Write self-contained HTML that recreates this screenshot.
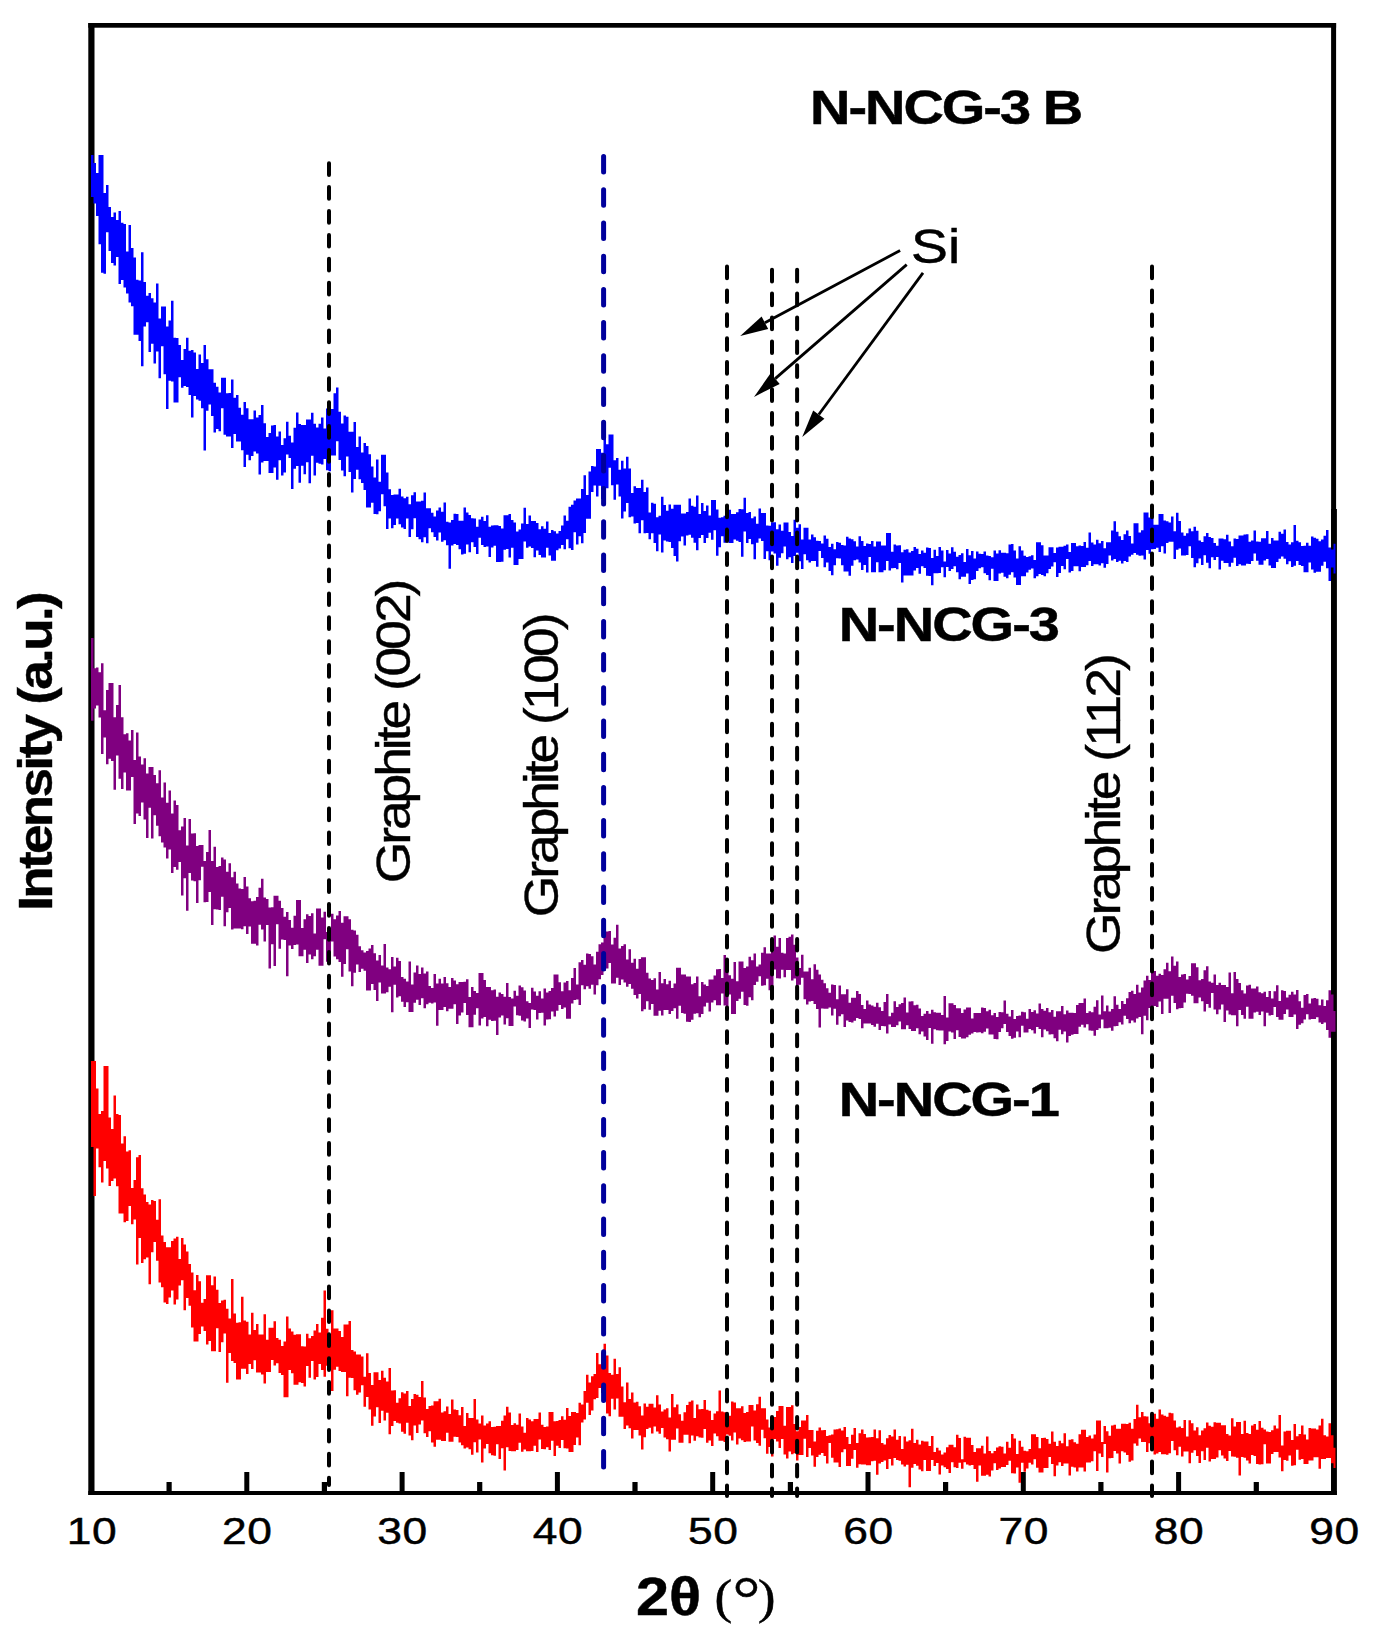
<!DOCTYPE html>
<html><head><meta charset="utf-8"><title>XRD</title>
<style>
html,body{margin:0;padding:0;background:#fff;}
svg{display:block;}
text{font-family:"Liberation Sans",sans-serif;fill:#000;stroke:#000;stroke-width:0.45px;}
.b{font-weight:bold;}
.ser{font-family:"Liberation Serif",serif;}
</style></head><body>
<svg width="1379" height="1646" viewBox="0 0 1379 1646">
<rect width="1379" height="1646" fill="#fff"/>

<g fill="#000">
<rect x="88.3" y="23" width="6.2" height="1472"/>
<rect x="88.3" y="23" width="1247.8" height="4.7"/>
<rect x="1331.1" y="23" width="5" height="1472"/>
<rect x="1331.1" y="509" width="5.8" height="986"/>
<rect x="88.3" y="1491" width="1248.5" height="4"/>
<rect x="166.5" y="1482" width="5.2" height="10"/>
<rect x="244.3" y="1472" width="5" height="20"/>
<rect x="321.8" y="1482" width="5.2" height="10"/>
<rect x="399.6" y="1472" width="5" height="20"/>
<rect x="477.1" y="1482" width="5.2" height="10"/>
<rect x="554.9" y="1472" width="5" height="20"/>
<rect x="632.4" y="1482" width="5.2" height="10"/>
<rect x="710.2" y="1472" width="5" height="20"/>
<rect x="787.8" y="1482" width="5.2" height="10"/>
<rect x="865.5" y="1472" width="5" height="20"/>
<rect x="943.0" y="1482" width="5.2" height="10"/>
<rect x="1020.8" y="1472" width="5" height="20"/>
<rect x="1098.3" y="1482" width="5.2" height="10"/>
<rect x="1176.1" y="1472" width="5" height="20"/>
<rect x="1253.7" y="1482" width="5.2" height="10"/>
</g>
<polygon points="91.0,1061.0 93.5,1061.0 93.5,1061.0 96.0,1061.0 96.0,1088.6 98.5,1088.6 98.5,1114.0 101.0,1114.0 101.0,1110.9 103.5,1110.9 103.5,1066.0 106.0,1066.0 106.0,1066.0 108.5,1066.0 108.5,1117.6 111.0,1117.6 111.0,1129.0 113.5,1129.0 113.5,1095.4 116.0,1095.4 116.0,1114.0 118.5,1114.0 118.5,1114.9 121.0,1114.9 121.0,1143.6 123.5,1143.6 123.5,1136.3 126.0,1136.3 126.0,1151.5 128.5,1151.5 128.5,1150.3 131.0,1150.3 131.0,1188.0 133.5,1188.0 133.5,1179.9 136.0,1179.9 136.0,1157.3 138.5,1157.3 138.5,1155.0 141.0,1155.0 141.0,1188.3 143.5,1188.3 143.5,1194.5 146.0,1194.5 146.0,1202.0 148.5,1202.0 148.5,1204.5 151.0,1204.5 151.0,1199.9 153.5,1199.9 153.5,1201.0 156.0,1201.0 156.0,1219.7 158.5,1219.7 158.5,1199.2 161.0,1199.2 161.0,1235.6 163.5,1235.6 163.5,1241.9 166.0,1241.9 166.0,1247.2 168.5,1247.2 168.5,1247.2 171.0,1247.2 171.0,1241.0 173.5,1241.0 173.5,1238.5 176.0,1238.5 176.0,1236.8 178.5,1236.8 178.5,1258.9 181.0,1258.9 181.0,1237.9 183.5,1237.9 183.5,1244.6 186.0,1244.6 186.0,1251.5 188.5,1251.5 188.5,1264.1 191.0,1264.1 191.0,1272.5 193.5,1272.5 193.5,1290.3 196.0,1290.3 196.0,1274.9 198.5,1274.9 198.5,1281.3 201.0,1281.3 201.0,1302.8 203.5,1302.8 203.5,1299.0 206.0,1299.0 206.0,1275.2 208.5,1275.2 208.5,1275.2 211.0,1275.2 211.0,1285.2 213.5,1285.2 213.5,1276.5 216.0,1276.5 216.0,1289.8 218.5,1289.8 218.5,1303.0 221.0,1303.0 221.0,1300.4 223.5,1300.4 223.5,1299.7 226.0,1299.7 226.0,1308.7 228.5,1308.7 228.5,1318.4 231.0,1318.4 231.0,1279.1 233.5,1279.1 233.5,1313.4 236.0,1313.4 236.0,1322.7 238.5,1322.7 238.5,1322.3 241.0,1322.3 241.0,1296.8 243.5,1296.8 243.5,1320.6 246.0,1320.6 246.0,1321.8 248.5,1321.8 248.5,1334.6 251.0,1334.6 251.0,1312.8 253.5,1312.8 253.5,1329.9 256.0,1329.9 256.0,1324.0 258.5,1324.0 258.5,1334.6 261.0,1334.6 261.0,1334.6 263.5,1334.6 263.5,1314.3 266.0,1314.3 266.0,1339.8 268.5,1339.8 268.5,1327.8 271.0,1327.8 271.0,1327.8 273.5,1327.8 273.5,1321.3 276.0,1321.3 276.0,1337.9 278.5,1337.9 278.5,1339.8 281.0,1339.8 281.0,1346.0 283.5,1346.0 283.5,1341.4 286.0,1341.4 286.0,1316.6 288.5,1316.6 288.5,1328.6 291.0,1328.6 291.0,1331.5 293.5,1331.5 293.5,1334.7 296.0,1334.7 296.0,1334.2 298.5,1334.2 298.5,1334.2 301.0,1334.2 301.0,1346.3 303.5,1346.3 303.5,1346.6 306.0,1346.6 306.0,1333.7 308.5,1333.7 308.5,1338.3 311.0,1338.3 311.0,1336.0 313.5,1336.0 313.5,1330.4 316.0,1330.4 316.0,1324.1 318.5,1324.1 318.5,1332.4 321.0,1332.4 321.0,1317.8 323.5,1317.8 323.5,1290.6 326.0,1290.6 326.0,1328.7 328.5,1328.7 328.5,1336.1 331.0,1336.1 331.0,1310.2 333.5,1310.2 333.5,1328.4 336.0,1328.4 336.0,1328.4 338.5,1328.4 338.5,1331.1 341.0,1331.1 341.0,1337.1 343.5,1337.1 343.5,1324.6 346.0,1324.6 346.0,1324.6 348.5,1324.6 348.5,1321.1 351.0,1321.1 351.0,1350.0 353.5,1350.0 353.5,1351.5 356.0,1351.5 356.0,1354.6 358.5,1354.6 358.5,1354.6 361.0,1354.6 361.0,1356.4 363.5,1356.4 363.5,1376.8 366.0,1376.8 366.0,1353.3 368.5,1353.3 368.5,1372.9 371.0,1372.9 371.0,1385.1 373.5,1385.1 373.5,1372.2 376.0,1372.2 376.0,1372.2 378.5,1372.2 378.5,1379.9 381.0,1379.9 381.0,1370.7 383.5,1370.7 383.5,1377.7 386.0,1377.7 386.0,1381.6 388.5,1381.6 388.5,1367.9 391.0,1367.9 391.0,1390.5 393.5,1390.5 393.5,1390.2 396.0,1390.2 396.0,1402.7 398.5,1402.7 398.5,1398.2 401.0,1398.2 401.0,1392.2 403.5,1392.2 403.5,1393.5 406.0,1393.5 406.0,1391.0 408.5,1391.0 408.5,1406.1 411.0,1406.1 411.0,1399.1 413.5,1399.1 413.5,1393.9 416.0,1393.9 416.0,1394.8 418.5,1394.8 418.5,1397.1 421.0,1397.1 421.0,1381.0 423.5,1381.0 423.5,1397.4 426.0,1397.4 426.0,1408.9 428.5,1408.9 428.5,1405.9 431.0,1405.9 431.0,1405.5 433.5,1405.5 433.5,1401.3 436.0,1401.3 436.0,1401.3 438.5,1401.3 438.5,1398.8 441.0,1398.8 441.0,1412.4 443.5,1412.4 443.5,1411.3 446.0,1411.3 446.0,1406.6 448.5,1406.6 448.5,1413.9 451.0,1413.9 451.0,1399.4 453.5,1399.4 453.5,1409.6 456.0,1409.6 456.0,1410.0 458.5,1410.0 458.5,1415.3 461.0,1415.3 461.0,1407.1 463.5,1407.1 463.5,1425.9 466.0,1425.9 466.0,1412.9 468.5,1412.9 468.5,1417.9 471.0,1417.9 471.0,1417.9 473.5,1417.9 473.5,1399.0 476.0,1399.0 476.0,1419.6 478.5,1419.6 478.5,1423.4 481.0,1423.4 481.0,1415.6 483.5,1415.6 483.5,1425.6 486.0,1425.6 486.0,1423.4 488.5,1423.4 488.5,1421.2 491.0,1421.2 491.0,1427.1 493.5,1427.1 493.5,1426.7 496.0,1426.7 496.0,1426.0 498.5,1426.0 498.5,1426.0 501.0,1426.0 501.0,1420.8 503.5,1420.8 503.5,1415.4 506.0,1415.4 506.0,1406.7 508.5,1406.7 508.5,1412.4 511.0,1412.4 511.0,1424.9 513.5,1424.9 513.5,1423.3 516.0,1423.3 516.0,1424.7 518.5,1424.7 518.5,1413.4 521.0,1413.4 521.0,1426.5 523.5,1426.5 523.5,1432.8 526.0,1432.8 526.0,1418.1 528.5,1418.1 528.5,1419.4 531.0,1419.4 531.0,1421.2 533.5,1421.2 533.5,1419.1 536.0,1419.1 536.0,1419.1 538.5,1419.1 538.5,1412.4 541.0,1412.4 541.0,1424.7 543.5,1424.7 543.5,1427.0 546.0,1427.0 546.0,1426.6 548.5,1426.6 548.5,1412.1 551.0,1412.1 551.0,1412.1 553.5,1412.1 553.5,1421.3 556.0,1421.3 556.0,1420.9 558.5,1420.9 558.5,1419.9 561.0,1419.9 561.0,1416.3 563.5,1416.3 563.5,1419.7 566.0,1419.7 566.0,1408.1 568.5,1408.1 568.5,1416.1 571.0,1416.1 571.0,1411.9 573.5,1411.9 573.5,1411.9 576.0,1411.9 576.0,1413.0 578.5,1413.0 578.5,1402.7 581.0,1402.7 581.0,1404.4 583.5,1404.4 583.5,1391.1 586.0,1391.1 586.0,1374.7 588.5,1374.7 588.5,1382.5 591.0,1382.5 591.0,1376.3 593.5,1376.3 593.5,1374.0 596.0,1374.0 596.0,1352.9 598.5,1352.9 598.5,1364.2 601.0,1364.2 601.0,1352.5 603.5,1352.5 603.5,1343.8 606.0,1343.8 606.0,1355.4 608.5,1355.4 608.5,1373.1 611.0,1373.1 611.0,1374.7 613.5,1374.7 613.5,1358.8 616.0,1358.8 616.0,1374.1 618.5,1374.1 618.5,1367.2 621.0,1367.2 621.0,1386.4 623.5,1386.4 623.5,1402.3 626.0,1402.3 626.0,1382.5 628.5,1382.5 628.5,1398.9 631.0,1398.9 631.0,1392.6 633.5,1392.6 633.5,1402.4 636.0,1402.4 636.0,1401.8 638.5,1401.8 638.5,1406.2 641.0,1406.2 641.0,1415.6 643.5,1415.6 643.5,1403.6 646.0,1403.6 646.0,1406.7 648.5,1406.7 648.5,1403.7 651.0,1403.7 651.0,1403.7 653.5,1403.7 653.5,1407.5 656.0,1407.5 656.0,1395.3 658.5,1395.3 658.5,1404.5 661.0,1404.5 661.0,1411.4 663.5,1411.4 663.5,1409.6 666.0,1409.6 666.0,1408.3 668.5,1408.3 668.5,1417.5 671.0,1417.5 671.0,1393.9 673.5,1393.9 673.5,1407.2 676.0,1407.2 676.0,1404.4 678.5,1404.4 678.5,1414.2 681.0,1414.2 681.0,1420.7 683.5,1420.7 683.5,1412.3 686.0,1412.3 686.0,1404.9 688.5,1404.9 688.5,1401.7 691.0,1401.7 691.0,1400.4 693.5,1400.4 693.5,1418.1 696.0,1418.1 696.0,1404.5 698.5,1404.5 698.5,1409.3 701.0,1409.3 701.0,1409.1 703.5,1409.1 703.5,1400.1 706.0,1400.1 706.0,1409.8 708.5,1409.8 708.5,1410.7 711.0,1410.7 711.0,1420.0 713.5,1420.0 713.5,1413.6 716.0,1413.6 716.0,1411.2 718.5,1411.2 718.5,1390.4 721.0,1390.4 721.0,1411.4 723.5,1411.4 723.5,1412.2 726.0,1412.2 726.0,1414.9 728.5,1414.9 728.5,1415.8 731.0,1415.8 731.0,1401.4 733.5,1401.4 733.5,1402.5 736.0,1402.5 736.0,1408.2 738.5,1408.2 738.5,1408.2 741.0,1408.2 741.0,1406.2 743.5,1406.2 743.5,1412.9 746.0,1412.9 746.0,1411.9 748.5,1411.9 748.5,1404.9 751.0,1404.9 751.0,1404.9 753.5,1404.9 753.5,1410.6 756.0,1410.6 756.0,1404.3 758.5,1404.3 758.5,1396.8 761.0,1396.8 761.0,1408.3 763.5,1408.3 763.5,1408.3 766.0,1408.3 766.0,1419.6 768.5,1419.6 768.5,1427.6 771.0,1427.6 771.0,1419.2 773.5,1419.2 773.5,1417.0 776.0,1417.0 776.0,1411.0 778.5,1411.0 778.5,1406.0 781.0,1406.0 781.0,1406.0 783.5,1406.0 783.5,1425.7 786.0,1425.7 786.0,1407.1 788.5,1407.1 788.5,1407.1 791.0,1407.1 791.0,1405.3 793.5,1405.3 793.5,1424.1 796.0,1424.1 796.0,1431.2 798.5,1431.2 798.5,1427.0 801.0,1427.0 801.0,1420.4 803.5,1420.4 803.5,1420.4 806.0,1420.4 806.0,1414.9 808.5,1414.9 808.5,1430.1 811.0,1430.1 811.0,1430.1 813.5,1430.1 813.5,1441.4 816.0,1441.4 816.0,1430.7 818.5,1430.7 818.5,1427.4 821.0,1427.4 821.0,1430.2 823.5,1430.2 823.5,1429.9 826.0,1429.9 826.0,1436.1 828.5,1436.1 828.5,1435.3 831.0,1435.3 831.0,1434.4 833.5,1434.4 833.5,1429.6 836.0,1429.6 836.0,1429.3 838.5,1429.3 838.5,1428.6 841.0,1428.6 841.0,1430.6 843.5,1430.6 843.5,1427.1 846.0,1427.1 846.0,1436.9 848.5,1436.9 848.5,1444.0 851.0,1444.0 851.0,1434.8 853.5,1434.8 853.5,1427.9 856.0,1427.9 856.0,1443.0 858.5,1443.0 858.5,1433.2 861.0,1433.2 861.0,1429.5 863.5,1429.5 863.5,1434.1 866.0,1434.1 866.0,1437.6 868.5,1437.6 868.5,1437.2 871.0,1437.2 871.0,1437.1 873.5,1437.1 873.5,1429.6 876.0,1429.6 876.0,1438.3 878.5,1438.3 878.5,1430.2 881.0,1430.2 881.0,1443.1 883.5,1443.1 883.5,1444.4 886.0,1444.4 886.0,1438.3 888.5,1438.3 888.5,1435.0 891.0,1435.0 891.0,1436.4 893.5,1436.4 893.5,1429.5 896.0,1429.5 896.0,1439.8 898.5,1439.8 898.5,1435.9 901.0,1435.9 901.0,1449.1 903.5,1449.1 903.5,1436.4 906.0,1436.4 906.0,1441.5 908.5,1441.5 908.5,1440.3 911.0,1440.3 911.0,1428.7 913.5,1428.7 913.5,1443.1 916.0,1443.1 916.0,1439.8 918.5,1439.8 918.5,1444.5 921.0,1444.5 921.0,1440.7 923.5,1440.7 923.5,1441.4 926.0,1441.4 926.0,1441.4 928.5,1441.4 928.5,1446.0 931.0,1446.0 931.0,1435.9 933.5,1435.9 933.5,1451.9 936.0,1451.9 936.0,1447.7 938.5,1447.7 938.5,1450.6 941.0,1450.6 941.0,1454.6 943.5,1454.6 943.5,1452.6 946.0,1452.6 946.0,1447.3 948.5,1447.3 948.5,1444.7 951.0,1444.7 951.0,1444.7 953.5,1444.7 953.5,1447.2 956.0,1447.2 956.0,1434.8 958.5,1434.8 958.5,1438.1 961.0,1438.1 961.0,1459.2 963.5,1459.2 963.5,1436.7 966.0,1436.7 966.0,1437.8 968.5,1437.8 968.5,1437.8 971.0,1437.8 971.0,1444.9 973.5,1444.9 973.5,1451.9 976.0,1451.9 976.0,1448.2 978.5,1448.2 978.5,1448.2 981.0,1448.2 981.0,1445.8 983.5,1445.8 983.5,1453.5 986.0,1453.5 986.0,1436.5 988.5,1436.5 988.5,1451.0 991.0,1451.0 991.0,1453.2 993.5,1453.2 993.5,1451.0 996.0,1451.0 996.0,1447.6 998.5,1447.6 998.5,1446.3 1001.0,1446.3 1001.0,1446.7 1003.5,1446.7 1003.5,1453.6 1006.0,1453.6 1006.0,1441.7 1008.5,1441.7 1008.5,1447.7 1011.0,1447.7 1011.0,1434.0 1013.5,1434.0 1013.5,1438.6 1016.0,1438.6 1016.0,1453.9 1018.5,1453.9 1018.5,1440.8 1021.0,1440.8 1021.0,1446.8 1023.5,1446.8 1023.5,1450.7 1026.0,1450.7 1026.0,1451.3 1028.5,1451.3 1028.5,1449.0 1031.0,1449.0 1031.0,1434.2 1033.5,1434.2 1033.5,1434.2 1036.0,1434.2 1036.0,1437.0 1038.5,1437.0 1038.5,1448.3 1041.0,1448.3 1041.0,1437.9 1043.5,1437.9 1043.5,1437.7 1046.0,1437.7 1046.0,1439.0 1048.5,1439.0 1048.5,1443.8 1051.0,1443.8 1051.0,1431.6 1053.5,1431.6 1053.5,1441.7 1056.0,1441.7 1056.0,1446.1 1058.5,1446.1 1058.5,1440.7 1061.0,1440.7 1061.0,1443.2 1063.5,1443.2 1063.5,1433.2 1066.0,1433.2 1066.0,1446.2 1068.5,1446.2 1068.5,1439.7 1071.0,1439.7 1071.0,1439.3 1073.5,1439.3 1073.5,1442.3 1076.0,1442.3 1076.0,1443.8 1078.5,1443.8 1078.5,1434.2 1081.0,1434.2 1081.0,1429.8 1083.5,1429.8 1083.5,1429.8 1086.0,1429.8 1086.0,1436.9 1088.5,1436.9 1088.5,1435.5 1091.0,1435.5 1091.0,1438.4 1093.5,1438.4 1093.5,1434.4 1096.0,1434.4 1096.0,1420.4 1098.5,1420.4 1098.5,1420.4 1101.0,1420.4 1101.0,1441.9 1103.5,1441.9 1103.5,1426.1 1106.0,1426.1 1106.0,1431.2 1108.5,1431.2 1108.5,1435.7 1111.0,1435.7 1111.0,1425.4 1113.5,1425.4 1113.5,1424.7 1116.0,1424.7 1116.0,1428.7 1118.5,1428.7 1118.5,1428.7 1121.0,1428.7 1121.0,1423.8 1123.5,1423.8 1123.5,1423.8 1126.0,1423.8 1126.0,1424.0 1128.5,1424.0 1128.5,1422.8 1131.0,1422.8 1131.0,1428.8 1133.5,1428.8 1133.5,1419.0 1136.0,1419.0 1136.0,1404.7 1138.5,1404.7 1138.5,1417.3 1141.0,1417.3 1141.0,1412.0 1143.5,1412.0 1143.5,1416.3 1146.0,1416.3 1146.0,1416.6 1148.5,1416.6 1148.5,1423.3 1151.0,1423.3 1151.0,1421.5 1153.5,1421.5 1153.5,1413.7 1156.0,1413.7 1156.0,1418.8 1158.5,1418.8 1158.5,1409.4 1161.0,1409.4 1161.0,1414.5 1163.5,1414.5 1163.5,1415.7 1166.0,1415.7 1166.0,1416.7 1168.5,1416.7 1168.5,1412.7 1171.0,1412.7 1171.0,1413.2 1173.5,1413.2 1173.5,1420.6 1176.0,1420.6 1176.0,1427.5 1178.5,1427.5 1178.5,1426.5 1181.0,1426.5 1181.0,1428.0 1183.5,1428.0 1183.5,1419.9 1186.0,1419.9 1186.0,1436.6 1188.5,1436.6 1188.5,1420.3 1191.0,1420.3 1191.0,1423.2 1193.5,1423.2 1193.5,1430.5 1196.0,1430.5 1196.0,1427.3 1198.5,1427.3 1198.5,1435.3 1201.0,1435.3 1201.0,1430.4 1203.5,1430.4 1203.5,1428.3 1206.0,1428.3 1206.0,1422.5 1208.5,1422.5 1208.5,1425.7 1211.0,1425.7 1211.0,1426.7 1213.5,1426.7 1213.5,1422.2 1216.0,1422.2 1216.0,1422.7 1218.5,1422.7 1218.5,1422.7 1221.0,1422.7 1221.0,1425.3 1223.5,1425.3 1223.5,1425.3 1226.0,1425.3 1226.0,1434.0 1228.5,1434.0 1228.5,1435.5 1231.0,1435.5 1231.0,1418.2 1233.5,1418.2 1233.5,1426.5 1236.0,1426.5 1236.0,1422.1 1238.5,1422.1 1238.5,1422.1 1241.0,1422.1 1241.0,1433.9 1243.5,1433.9 1243.5,1420.7 1246.0,1420.7 1246.0,1432.9 1248.5,1432.9 1248.5,1433.9 1251.0,1433.9 1251.0,1425.5 1253.5,1425.5 1253.5,1424.0 1256.0,1424.0 1256.0,1429.8 1258.5,1429.8 1258.5,1420.9 1261.0,1420.9 1261.0,1427.8 1263.5,1427.8 1263.5,1429.6 1266.0,1429.6 1266.0,1431.6 1268.5,1431.6 1268.5,1432.1 1271.0,1432.1 1271.0,1430.2 1273.5,1430.2 1273.5,1425.6 1276.0,1425.6 1276.0,1428.4 1278.5,1428.4 1278.5,1415.1 1281.0,1415.1 1281.0,1445.6 1283.5,1445.6 1283.5,1431.4 1286.0,1431.4 1286.0,1430.8 1288.5,1430.8 1288.5,1430.8 1291.0,1430.8 1291.0,1440.1 1293.5,1440.1 1293.5,1424.1 1296.0,1424.1 1296.0,1436.2 1298.5,1436.2 1298.5,1434.1 1301.0,1434.1 1301.0,1425.5 1303.5,1425.5 1303.5,1434.4 1306.0,1434.4 1306.0,1439.5 1308.5,1439.5 1308.5,1428.1 1311.0,1428.1 1311.0,1428.5 1313.5,1428.5 1313.5,1428.5 1316.0,1428.5 1316.0,1429.5 1318.5,1429.5 1318.5,1425.4 1321.0,1425.4 1321.0,1418.8 1323.5,1418.8 1323.5,1435.2 1326.0,1435.2 1326.0,1436.6 1328.5,1436.6 1328.5,1423.3 1331.0,1423.3 1331.0,1435.2 1333.5,1435.2 1333.5,1447.7 1335.5,1447.7 1335.5,1468.0 1333.5,1468.0 1333.5,1463.3 1331.0,1463.3 1331.0,1457.9 1328.5,1457.9 1328.5,1458.0 1326.0,1458.0 1326.0,1458.9 1323.5,1458.9 1323.5,1458.9 1321.0,1458.9 1321.0,1468.7 1318.5,1468.7 1318.5,1457.2 1316.0,1457.2 1316.0,1457.2 1313.5,1457.2 1313.5,1460.4 1311.0,1460.4 1311.0,1460.4 1308.5,1460.4 1308.5,1464.0 1306.0,1464.0 1306.0,1464.0 1303.5,1464.0 1303.5,1459.1 1301.0,1459.1 1301.0,1459.8 1298.5,1459.8 1298.5,1449.8 1296.0,1449.8 1296.0,1465.2 1293.5,1465.2 1293.5,1465.8 1291.0,1465.8 1291.0,1455.4 1288.5,1455.4 1288.5,1460.8 1286.0,1460.8 1286.0,1460.1 1283.5,1460.1 1283.5,1471.2 1281.0,1471.2 1281.0,1457.6 1278.5,1457.6 1278.5,1452.0 1276.0,1452.0 1276.0,1452.0 1273.5,1452.0 1273.5,1454.0 1271.0,1454.0 1271.0,1463.4 1268.5,1463.4 1268.5,1463.4 1266.0,1463.4 1266.0,1444.3 1263.5,1444.3 1263.5,1464.3 1261.0,1464.3 1261.0,1464.6 1258.5,1464.6 1258.5,1464.1 1256.0,1464.1 1256.0,1456.0 1253.5,1456.0 1253.5,1455.0 1251.0,1455.0 1251.0,1463.6 1248.5,1463.6 1248.5,1460.4 1246.0,1460.4 1246.0,1457.7 1243.5,1457.7 1243.5,1456.9 1241.0,1456.9 1241.0,1475.6 1238.5,1475.6 1238.5,1457.8 1236.0,1457.8 1236.0,1456.7 1233.5,1456.7 1233.5,1456.5 1231.0,1456.5 1231.0,1450.9 1228.5,1450.9 1228.5,1461.0 1226.0,1461.0 1226.0,1458.4 1223.5,1458.4 1223.5,1455.6 1221.0,1455.6 1221.0,1450.3 1218.5,1450.3 1218.5,1457.6 1216.0,1457.6 1216.0,1459.0 1213.5,1459.0 1213.5,1459.0 1211.0,1459.0 1211.0,1461.4 1208.5,1461.4 1208.5,1447.8 1206.0,1447.8 1206.0,1460.1 1203.5,1460.1 1203.5,1451.2 1201.0,1451.2 1201.0,1463.0 1198.5,1463.0 1198.5,1456.1 1196.0,1456.1 1196.0,1450.3 1193.5,1450.3 1193.5,1452.7 1191.0,1452.7 1191.0,1463.3 1188.5,1463.3 1188.5,1451.4 1186.0,1451.4 1186.0,1451.6 1183.5,1451.6 1183.5,1456.5 1181.0,1456.5 1181.0,1446.8 1178.5,1446.8 1178.5,1455.2 1176.0,1455.2 1176.0,1450.3 1173.5,1450.3 1173.5,1441.0 1171.0,1441.0 1171.0,1453.3 1168.5,1453.3 1168.5,1454.7 1166.0,1454.7 1166.0,1454.3 1163.5,1454.3 1163.5,1454.3 1161.0,1454.3 1161.0,1451.9 1158.5,1451.9 1158.5,1453.6 1156.0,1453.6 1156.0,1454.5 1153.5,1454.5 1153.5,1447.9 1151.0,1447.9 1151.0,1443.3 1148.5,1443.3 1148.5,1452.1 1146.0,1452.1 1146.0,1441.9 1143.5,1441.9 1143.5,1441.9 1141.0,1441.9 1141.0,1438.6 1138.5,1438.6 1138.5,1445.7 1136.0,1445.7 1136.0,1443.5 1133.5,1443.5 1133.5,1460.6 1131.0,1460.6 1131.0,1461.8 1128.5,1461.8 1128.5,1454.9 1126.0,1454.9 1126.0,1452.4 1123.5,1452.4 1123.5,1451.2 1121.0,1451.2 1121.0,1463.6 1118.5,1463.6 1118.5,1453.6 1116.0,1453.6 1116.0,1451.0 1113.5,1451.0 1113.5,1458.0 1111.0,1458.0 1111.0,1458.2 1108.5,1458.2 1108.5,1472.4 1106.0,1472.4 1106.0,1444.1 1103.5,1444.1 1103.5,1457.0 1101.0,1457.0 1101.0,1453.4 1098.5,1453.4 1098.5,1471.0 1096.0,1471.0 1096.0,1451.3 1093.5,1451.3 1093.5,1461.2 1091.0,1461.2 1091.0,1462.6 1088.5,1462.6 1088.5,1462.6 1086.0,1462.6 1086.0,1471.5 1083.5,1471.5 1083.5,1467.5 1081.0,1467.5 1081.0,1467.5 1078.5,1467.5 1078.5,1471.4 1076.0,1471.4 1076.0,1467.5 1073.5,1467.5 1073.5,1466.7 1071.0,1466.7 1071.0,1475.4 1068.5,1475.4 1068.5,1463.6 1066.0,1463.6 1066.0,1463.6 1063.5,1463.6 1063.5,1466.0 1061.0,1466.0 1061.0,1462.3 1058.5,1462.3 1058.5,1465.5 1056.0,1465.5 1056.0,1476.3 1053.5,1476.3 1053.5,1464.0 1051.0,1464.0 1051.0,1456.9 1048.5,1456.9 1048.5,1468.0 1046.0,1468.0 1046.0,1468.0 1043.5,1468.0 1043.5,1472.6 1041.0,1472.6 1041.0,1472.6 1038.5,1472.6 1038.5,1467.8 1036.0,1467.8 1036.0,1459.3 1033.5,1459.3 1033.5,1464.4 1031.0,1464.4 1031.0,1462.8 1028.5,1462.8 1028.5,1468.4 1026.0,1468.4 1026.0,1471.7 1023.5,1471.7 1023.5,1462.7 1021.0,1462.7 1021.0,1482.7 1018.5,1482.7 1018.5,1467.4 1016.0,1467.4 1016.0,1473.4 1013.5,1473.4 1013.5,1473.2 1011.0,1473.2 1011.0,1460.7 1008.5,1460.7 1008.5,1465.0 1006.0,1465.0 1006.0,1467.0 1003.5,1467.0 1003.5,1467.0 1001.0,1467.0 1001.0,1468.5 998.5,1468.5 998.5,1469.9 996.0,1469.9 996.0,1463.3 993.5,1463.3 993.5,1470.4 991.0,1470.4 991.0,1476.4 988.5,1476.4 988.5,1474.7 986.0,1474.7 986.0,1475.8 983.5,1475.8 983.5,1475.8 981.0,1475.8 981.0,1465.4 978.5,1465.4 978.5,1481.8 976.0,1481.8 976.0,1468.9 973.5,1468.9 973.5,1464.9 971.0,1464.9 971.0,1465.5 968.5,1465.5 968.5,1464.4 966.0,1464.4 966.0,1462.3 963.5,1462.3 963.5,1468.8 961.0,1468.8 961.0,1462.8 958.5,1462.8 958.5,1468.1 956.0,1468.1 956.0,1467.3 953.5,1467.3 953.5,1462.2 951.0,1462.2 951.0,1473.1 948.5,1473.1 948.5,1469.0 946.0,1469.0 946.0,1467.2 943.5,1467.2 943.5,1465.4 941.0,1465.4 941.0,1474.5 938.5,1474.5 938.5,1463.1 936.0,1463.1 936.0,1466.0 933.5,1466.0 933.5,1459.9 931.0,1459.9 931.0,1471.1 928.5,1471.1 928.5,1471.1 926.0,1471.1 926.0,1459.9 923.5,1459.9 923.5,1471.3 921.0,1471.3 921.0,1469.6 918.5,1469.6 918.5,1465.7 916.0,1465.7 916.0,1464.0 913.5,1464.0 913.5,1467.7 911.0,1467.7 911.0,1487.2 908.5,1487.2 908.5,1464.7 906.0,1464.7 906.0,1466.4 903.5,1466.4 903.5,1464.4 901.0,1464.4 901.0,1460.8 898.5,1460.8 898.5,1460.1 896.0,1460.1 896.0,1457.9 893.5,1457.9 893.5,1465.4 891.0,1465.4 891.0,1459.1 888.5,1459.1 888.5,1469.0 886.0,1469.0 886.0,1460.6 883.5,1460.6 883.5,1461.9 881.0,1461.9 881.0,1463.4 878.5,1463.4 878.5,1474.8 876.0,1474.8 876.0,1460.8 873.5,1460.8 873.5,1461.2 871.0,1461.2 871.0,1465.2 868.5,1465.2 868.5,1465.2 866.0,1465.2 866.0,1464.4 863.5,1464.4 863.5,1464.6 861.0,1464.6 861.0,1464.2 858.5,1464.2 858.5,1467.7 856.0,1467.7 856.0,1450.0 853.5,1450.0 853.5,1458.8 851.0,1458.8 851.0,1466.0 848.5,1466.0 848.5,1466.0 846.0,1466.0 846.0,1449.3 843.5,1449.3 843.5,1452.3 841.0,1452.3 841.0,1466.9 838.5,1466.9 838.5,1462.5 836.0,1462.5 836.0,1462.5 833.5,1462.5 833.5,1457.8 831.0,1457.8 831.0,1442.9 828.5,1442.9 828.5,1463.6 826.0,1463.6 826.0,1456.0 823.5,1456.0 823.5,1453.0 821.0,1453.0 821.0,1454.8 818.5,1454.8 818.5,1457.0 816.0,1457.0 816.0,1466.7 813.5,1466.7 813.5,1455.4 811.0,1455.4 811.0,1447.9 808.5,1447.9 808.5,1456.9 806.0,1456.9 806.0,1438.8 803.5,1438.8 803.5,1454.9 801.0,1454.9 801.0,1454.9 798.5,1454.9 798.5,1460.6 796.0,1460.6 796.0,1453.3 793.5,1453.3 793.5,1454.3 791.0,1454.3 791.0,1451.4 788.5,1451.4 788.5,1458.5 786.0,1458.5 786.0,1454.6 783.5,1454.6 783.5,1439.0 781.0,1439.0 781.0,1447.9 778.5,1447.9 778.5,1441.6 776.0,1441.6 776.0,1438.9 773.5,1438.9 773.5,1456.4 771.0,1456.4 771.0,1447.0 768.5,1447.0 768.5,1453.8 766.0,1453.8 766.0,1438.3 763.5,1438.3 763.5,1429.8 761.0,1429.8 761.0,1445.7 758.5,1445.7 758.5,1442.9 756.0,1442.9 756.0,1440.5 753.5,1440.5 753.5,1426.6 751.0,1426.6 751.0,1441.4 748.5,1441.4 748.5,1441.4 746.0,1441.4 746.0,1442.1 743.5,1442.1 743.5,1440.3 741.0,1440.3 741.0,1438.6 738.5,1438.6 738.5,1444.5 736.0,1444.5 736.0,1432.5 733.5,1432.5 733.5,1440.5 731.0,1440.5 731.0,1435.8 728.5,1435.8 728.5,1434.5 726.0,1434.5 726.0,1442.1 723.5,1442.1 723.5,1440.7 721.0,1440.7 721.0,1440.7 718.5,1440.7 718.5,1436.3 716.0,1436.3 716.0,1433.5 713.5,1433.5 713.5,1446.0 711.0,1446.0 711.0,1440.4 708.5,1440.4 708.5,1442.7 706.0,1442.7 706.0,1429.1 703.5,1429.1 703.5,1437.7 701.0,1437.7 701.0,1437.5 698.5,1437.5 698.5,1436.3 696.0,1436.3 696.0,1440.8 693.5,1440.8 693.5,1435.4 691.0,1435.4 691.0,1443.2 688.5,1443.2 688.5,1434.7 686.0,1434.7 686.0,1434.7 683.5,1434.7 683.5,1442.8 681.0,1442.8 681.0,1442.8 678.5,1442.8 678.5,1428.4 676.0,1428.4 676.0,1439.7 673.5,1439.7 673.5,1439.7 671.0,1439.7 671.0,1451.6 668.5,1451.6 668.5,1439.2 666.0,1439.2 666.0,1437.6 663.5,1437.6 663.5,1428.1 661.0,1428.1 661.0,1433.7 658.5,1433.7 658.5,1431.4 656.0,1431.4 656.0,1426.5 653.5,1426.5 653.5,1433.5 651.0,1433.5 651.0,1427.8 648.5,1427.8 648.5,1429.1 646.0,1429.1 646.0,1437.2 643.5,1437.2 643.5,1449.5 641.0,1449.5 641.0,1435.4 638.5,1435.4 638.5,1429.9 636.0,1429.9 636.0,1430.1 633.5,1430.1 633.5,1438.4 631.0,1438.4 631.0,1428.3 628.5,1428.3 628.5,1425.5 626.0,1425.5 626.0,1429.1 623.5,1429.1 623.5,1416.7 621.0,1416.7 621.0,1416.7 618.5,1416.7 618.5,1398.5 616.0,1398.5 616.0,1409.6 613.5,1409.6 613.5,1398.7 611.0,1398.7 611.0,1416.3 608.5,1416.3 608.5,1413.5 606.0,1413.5 606.0,1395.0 603.5,1395.0 603.5,1392.9 601.0,1392.9 601.0,1387.9 598.5,1387.9 598.5,1398.0 596.0,1398.0 596.0,1399.3 593.5,1399.3 593.5,1410.4 591.0,1410.4 591.0,1415.0 588.5,1415.0 588.5,1402.8 586.0,1402.8 586.0,1419.6 583.5,1419.6 583.5,1422.5 581.0,1422.5 581.0,1445.2 578.5,1445.2 578.5,1437.5 576.0,1437.5 576.0,1445.1 573.5,1445.1 573.5,1451.9 571.0,1451.9 571.0,1451.9 568.5,1451.9 568.5,1448.4 566.0,1448.4 566.0,1448.3 563.5,1448.3 563.5,1439.9 561.0,1439.9 561.0,1447.9 558.5,1447.9 558.5,1445.7 556.0,1445.7 556.0,1456.1 553.5,1456.1 553.5,1440.8 551.0,1440.8 551.0,1449.9 548.5,1449.9 548.5,1447.2 546.0,1447.2 546.0,1449.3 543.5,1449.3 543.5,1449.0 541.0,1449.0 541.0,1439.6 538.5,1439.6 538.5,1451.9 536.0,1451.9 536.0,1445.7 533.5,1445.7 533.5,1451.0 531.0,1451.0 531.0,1451.2 528.5,1451.2 528.5,1451.2 526.0,1451.2 526.0,1449.5 523.5,1449.5 523.5,1451.8 521.0,1451.8 521.0,1442.8 518.5,1442.8 518.5,1449.9 516.0,1449.9 516.0,1451.3 513.5,1451.3 513.5,1451.3 511.0,1451.3 511.0,1451.0 508.5,1451.0 508.5,1447.3 506.0,1447.3 506.0,1470.5 503.5,1470.5 503.5,1448.2 501.0,1448.2 501.0,1458.9 498.5,1458.9 498.5,1444.3 496.0,1444.3 496.0,1455.7 493.5,1455.7 493.5,1455.3 491.0,1455.3 491.0,1453.2 488.5,1453.2 488.5,1443.9 486.0,1443.9 486.0,1448.6 483.5,1448.6 483.5,1462.4 481.0,1462.4 481.0,1439.6 478.5,1439.6 478.5,1452.4 476.0,1452.4 476.0,1442.3 473.5,1442.3 473.5,1454.8 471.0,1454.8 471.0,1449.3 468.5,1449.3 468.5,1447.4 466.0,1447.4 466.0,1448.4 463.5,1448.4 463.5,1445.2 461.0,1445.2 461.0,1442.5 458.5,1442.5 458.5,1436.9 456.0,1436.9 456.0,1436.7 453.5,1436.7 453.5,1441.8 451.0,1441.8 451.0,1441.8 448.5,1441.8 448.5,1432.8 446.0,1432.8 446.0,1441.0 443.5,1441.0 443.5,1441.0 441.0,1441.0 441.0,1439.7 438.5,1439.7 438.5,1439.7 436.0,1439.7 436.0,1446.8 433.5,1446.8 433.5,1442.6 431.0,1442.6 431.0,1431.3 428.5,1431.3 428.5,1437.1 426.0,1437.1 426.0,1433.3 423.5,1433.3 423.5,1420.6 421.0,1420.6 421.0,1424.5 418.5,1424.5 418.5,1432.9 416.0,1432.9 416.0,1425.4 413.5,1425.4 413.5,1440.3 411.0,1440.3 411.0,1435.6 408.5,1435.6 408.5,1422.7 406.0,1422.7 406.0,1433.8 403.5,1433.8 403.5,1431.7 401.0,1431.7 401.0,1423.6 398.5,1423.6 398.5,1422.8 396.0,1422.8 396.0,1421.1 393.5,1421.1 393.5,1425.9 391.0,1425.9 391.0,1434.3 388.5,1434.3 388.5,1412.7 386.0,1412.7 386.0,1420.6 383.5,1420.6 383.5,1410.7 381.0,1410.7 381.0,1423.1 378.5,1423.1 378.5,1407.2 376.0,1407.2 376.0,1416.4 373.5,1416.4 373.5,1425.8 371.0,1425.8 371.0,1409.6 368.5,1409.6 368.5,1397.0 366.0,1397.0 366.0,1406.7 363.5,1406.7 363.5,1385.3 361.0,1385.3 361.0,1392.4 358.5,1392.4 358.5,1394.8 356.0,1394.8 356.0,1390.2 353.5,1390.2 353.5,1378.1 351.0,1378.1 351.0,1377.7 348.5,1377.7 348.5,1396.2 346.0,1396.2 346.0,1371.9 343.5,1371.9 343.5,1371.9 341.0,1371.9 341.0,1370.9 338.5,1370.9 338.5,1366.8 336.0,1366.8 336.0,1369.7 333.5,1369.7 333.5,1391.0 331.0,1391.0 331.0,1361.4 328.5,1361.4 328.5,1365.7 326.0,1365.7 326.0,1376.7 323.5,1376.7 323.5,1369.9 321.0,1369.9 321.0,1363.9 318.5,1363.9 318.5,1377.0 316.0,1377.0 316.0,1379.6 313.5,1379.6 313.5,1361.0 311.0,1361.0 311.0,1377.7 308.5,1377.7 308.5,1366.0 306.0,1366.0 306.0,1386.5 303.5,1386.5 303.5,1383.0 301.0,1383.0 301.0,1382.2 298.5,1382.2 298.5,1384.8 296.0,1384.8 296.0,1384.8 293.5,1384.8 293.5,1373.3 291.0,1373.3 291.0,1370.1 288.5,1370.1 288.5,1397.2 286.0,1397.2 286.0,1397.2 283.5,1397.2 283.5,1375.1 281.0,1375.1 281.0,1372.9 278.5,1372.9 278.5,1363.3 276.0,1363.3 276.0,1365.5 273.5,1365.5 273.5,1360.1 271.0,1360.1 271.0,1372.1 268.5,1372.1 268.5,1372.1 266.0,1372.1 266.0,1383.4 263.5,1383.4 263.5,1374.5 261.0,1374.5 261.0,1372.6 258.5,1372.6 258.5,1372.4 256.0,1372.4 256.0,1360.3 253.5,1360.3 253.5,1368.9 251.0,1368.9 251.0,1364.1 248.5,1364.1 248.5,1374.1 246.0,1374.1 246.0,1368.7 243.5,1368.7 243.5,1368.7 241.0,1368.7 241.0,1379.4 238.5,1379.4 238.5,1379.4 236.0,1379.4 236.0,1363.0 233.5,1363.0 233.5,1361.1 231.0,1361.1 231.0,1353.0 228.5,1353.0 228.5,1382.8 226.0,1382.8 226.0,1333.4 223.5,1333.4 223.5,1342.2 221.0,1342.2 221.0,1351.9 218.5,1351.9 218.5,1328.3 216.0,1328.3 216.0,1351.2 213.5,1351.2 213.5,1351.2 211.0,1351.2 211.0,1341.1 208.5,1341.1 208.5,1344.5 206.0,1344.5 206.0,1331.1 203.5,1331.1 203.5,1326.5 201.0,1326.5 201.0,1333.9 198.5,1333.9 198.5,1341.5 196.0,1341.5 196.0,1341.5 193.5,1341.5 193.5,1327.4 191.0,1327.4 191.0,1305.7 188.5,1305.7 188.5,1298.1 186.0,1298.1 186.0,1310.3 183.5,1310.3 183.5,1280.3 181.0,1280.3 181.0,1285.6 178.5,1285.6 178.5,1299.4 176.0,1299.4 176.0,1304.6 173.5,1304.6 173.5,1290.4 171.0,1290.4 171.0,1297.6 168.5,1297.6 168.5,1304.1 166.0,1304.1 166.0,1302.4 163.5,1302.4 163.5,1287.2 161.0,1287.2 161.0,1282.6 158.5,1282.6 158.5,1260.7 156.0,1260.7 156.0,1242.1 153.5,1242.1 153.5,1252.2 151.0,1252.2 151.0,1284.2 148.5,1284.2 148.5,1257.4 146.0,1257.4 146.0,1259.2 143.5,1259.2 143.5,1263.1 141.0,1263.1 141.0,1238.0 138.5,1238.0 138.5,1264.5 136.0,1264.5 136.0,1219.4 133.5,1219.4 133.5,1224.2 131.0,1224.2 131.0,1205.9 128.5,1205.9 128.5,1221.1 126.0,1221.1 126.0,1222.2 123.5,1222.2 123.5,1213.4 121.0,1213.4 121.0,1213.4 118.5,1213.4 118.5,1186.3 116.0,1186.3 116.0,1178.6 113.5,1178.6 113.5,1181.1 111.0,1181.1 111.0,1186.0 108.5,1186.0 108.5,1168.6 106.0,1168.6 106.0,1160.9 103.5,1160.9 103.5,1182.6 101.0,1182.6 101.0,1167.3 98.5,1167.3 98.5,1148.6 96.0,1148.6 96.0,1196.1 93.5,1196.1 93.5,1147.0 91.0,1147.0" fill="#ff0000"/>
<polygon points="91.0,638.0 93.5,638.0 93.5,668.3 96.0,668.3 96.0,667.4 98.5,667.4 98.5,672.2 101.0,672.2 101.0,663.3 103.5,663.3 103.5,710.3 106.0,710.3 106.0,690.0 108.5,690.0 108.5,683.0 111.0,683.0 111.0,683.0 113.5,683.0 113.5,717.3 116.0,717.3 116.0,704.9 118.5,704.9 118.5,685.0 121.0,685.0 121.0,717.3 123.5,717.3 123.5,734.3 126.0,734.3 126.0,733.3 128.5,733.3 128.5,740.4 131.0,740.4 131.0,730.1 133.5,730.1 133.5,760.1 136.0,760.1 136.0,732.6 138.5,732.6 138.5,756.5 141.0,756.5 141.0,764.5 143.5,764.5 143.5,758.2 146.0,758.2 146.0,773.6 148.5,773.6 148.5,766.9 151.0,766.9 151.0,766.9 153.5,766.9 153.5,775.1 156.0,775.1 156.0,783.3 158.5,783.3 158.5,770.3 161.0,770.3 161.0,797.5 163.5,797.5 163.5,782.5 166.0,782.5 166.0,802.8 168.5,802.8 168.5,790.4 171.0,790.4 171.0,813.5 173.5,813.5 173.5,800.6 176.0,800.6 176.0,805.0 178.5,805.0 178.5,830.2 181.0,830.2 181.0,826.4 183.5,826.4 183.5,818.1 186.0,818.1 186.0,845.6 188.5,845.6 188.5,818.9 191.0,818.9 191.0,833.4 193.5,833.4 193.5,833.3 196.0,833.3 196.0,846.0 198.5,846.0 198.5,844.9 201.0,844.9 201.0,845.1 203.5,845.1 203.5,861.1 206.0,861.1 206.0,852.1 208.5,852.1 208.5,829.9 211.0,829.9 211.0,860.9 213.5,860.9 213.5,846.8 216.0,846.8 216.0,866.9 218.5,866.9 218.5,866.0 221.0,866.0 221.0,857.4 223.5,857.4 223.5,859.4 226.0,859.4 226.0,871.7 228.5,871.7 228.5,863.2 231.0,863.2 231.0,877.2 233.5,877.2 233.5,871.8 236.0,871.8 236.0,883.4 238.5,883.4 238.5,888.5 241.0,888.5 241.0,888.9 243.5,888.9 243.5,877.1 246.0,877.1 246.0,886.4 248.5,886.4 248.5,898.2 251.0,898.2 251.0,901.3 253.5,901.3 253.5,900.7 256.0,900.7 256.0,896.9 258.5,896.9 258.5,887.8 261.0,887.8 261.0,878.7 263.5,878.7 263.5,897.4 266.0,897.4 266.0,899.1 268.5,899.1 268.5,907.4 271.0,907.4 271.0,907.3 273.5,907.3 273.5,895.8 276.0,895.8 276.0,895.8 278.5,895.8 278.5,900.7 281.0,900.7 281.0,908.0 283.5,908.0 283.5,916.7 286.0,916.7 286.0,912.0 288.5,912.0 288.5,920.1 291.0,920.1 291.0,927.8 293.5,927.8 293.5,915.8 296.0,915.8 296.0,899.9 298.5,899.9 298.5,899.9 301.0,899.9 301.0,928.1 303.5,928.1 303.5,919.3 306.0,919.3 306.0,914.2 308.5,914.2 308.5,916.1 311.0,916.1 311.0,913.3 313.5,913.3 313.5,933.6 316.0,933.6 316.0,908.6 318.5,908.6 318.5,908.6 321.0,908.6 321.0,917.5 323.5,917.5 323.5,911.8 326.0,911.8 326.0,932.0 328.5,932.0 328.5,930.6 331.0,930.6 331.0,913.8 333.5,913.8 333.5,919.2 336.0,919.2 336.0,915.4 338.5,915.4 338.5,911.0 341.0,911.0 341.0,922.8 343.5,922.8 343.5,916.3 346.0,916.3 346.0,916.3 348.5,916.3 348.5,919.2 351.0,919.2 351.0,929.7 353.5,929.7 353.5,930.5 356.0,930.5 356.0,934.7 358.5,934.7 358.5,946.3 361.0,946.3 361.0,950.3 363.5,950.3 363.5,952.6 366.0,952.6 366.0,951.0 368.5,951.0 368.5,948.6 371.0,948.6 371.0,945.0 373.5,945.0 373.5,953.3 376.0,953.3 376.0,960.6 378.5,960.6 378.5,955.1 381.0,955.1 381.0,965.5 383.5,965.5 383.5,944.0 386.0,944.0 386.0,967.6 388.5,967.6 388.5,969.2 391.0,969.2 391.0,956.9 393.5,956.9 393.5,966.6 396.0,966.6 396.0,957.7 398.5,957.7 398.5,960.9 401.0,960.9 401.0,977.1 403.5,977.1 403.5,978.8 406.0,978.8 406.0,981.6 408.5,981.6 408.5,961.5 411.0,961.5 411.0,984.6 413.5,984.6 413.5,972.6 416.0,972.6 416.0,965.6 418.5,965.6 418.5,974.1 421.0,974.1 421.0,967.4 423.5,967.4 423.5,973.6 426.0,973.6 426.0,971.5 428.5,971.5 428.5,986.1 431.0,986.1 431.0,988.0 433.5,988.0 433.5,974.1 436.0,974.1 436.0,983.6 438.5,983.6 438.5,978.8 441.0,978.8 441.0,983.6 443.5,983.6 443.5,977.0 446.0,977.0 446.0,983.2 448.5,983.2 448.5,986.9 451.0,986.9 451.0,978.1 453.5,978.1 453.5,980.6 456.0,980.6 456.0,984.2 458.5,984.2 458.5,982.1 461.0,982.1 461.0,982.1 463.5,982.1 463.5,981.7 466.0,981.7 466.0,979.2 468.5,979.2 468.5,997.0 471.0,997.0 471.0,987.1 473.5,987.1 473.5,991.0 476.0,991.0 476.0,993.0 478.5,993.0 478.5,972.9 481.0,972.9 481.0,972.9 483.5,972.9 483.5,980.1 486.0,980.1 486.0,986.9 488.5,986.9 488.5,987.1 491.0,987.1 491.0,990.2 493.5,990.2 493.5,989.4 496.0,989.4 496.0,996.7 498.5,996.7 498.5,992.5 501.0,992.5 501.0,994.1 503.5,994.1 503.5,996.8 506.0,996.8 506.0,982.9 508.5,982.9 508.5,997.1 511.0,997.1 511.0,998.5 513.5,998.5 513.5,990.7 516.0,990.7 516.0,995.8 518.5,995.8 518.5,985.5 521.0,985.5 521.0,987.3 523.5,987.3 523.5,990.4 526.0,990.4 526.0,1001.3 528.5,1001.3 528.5,1002.9 531.0,1002.9 531.0,987.8 533.5,987.8 533.5,991.5 536.0,991.5 536.0,995.8 538.5,995.8 538.5,991.3 541.0,991.3 541.0,998.4 543.5,998.4 543.5,988.5 546.0,988.5 546.0,992.5 548.5,992.5 548.5,991.0 551.0,991.0 551.0,988.1 553.5,988.1 553.5,974.6 556.0,974.6 556.0,974.6 558.5,974.6 558.5,982.3 561.0,982.3 561.0,991.2 563.5,991.2 563.5,982.4 566.0,982.4 566.0,981.1 568.5,981.1 568.5,990.3 571.0,990.3 571.0,977.9 573.5,977.9 573.5,967.9 576.0,967.9 576.0,984.6 578.5,984.6 578.5,962.3 581.0,962.3 581.0,959.9 583.5,959.9 583.5,964.8 586.0,964.8 586.0,953.6 588.5,953.6 588.5,954.0 591.0,954.0 591.0,956.2 593.5,956.2 593.5,964.5 596.0,964.5 596.0,951.7 598.5,951.7 598.5,944.2 601.0,944.2 601.0,942.5 603.5,942.5 603.5,931.6 606.0,931.6 606.0,931.6 608.5,931.6 608.5,931.0 611.0,931.0 611.0,944.6 613.5,944.6 613.5,937.7 616.0,937.7 616.0,924.8 618.5,924.8 618.5,948.4 621.0,948.4 621.0,946.0 623.5,946.0 623.5,944.2 626.0,944.2 626.0,959.5 628.5,959.5 628.5,949.3 631.0,949.3 631.0,962.8 633.5,962.8 633.5,958.7 636.0,958.7 636.0,968.8 638.5,968.8 638.5,959.0 641.0,959.0 641.0,957.2 643.5,957.2 643.5,957.2 646.0,957.2 646.0,972.7 648.5,972.7 648.5,978.5 651.0,978.5 651.0,979.9 653.5,979.9 653.5,978.3 656.0,978.3 656.0,989.6 658.5,989.6 658.5,972.0 661.0,972.0 661.0,983.3 663.5,983.3 663.5,979.1 666.0,979.1 666.0,984.3 668.5,984.3 668.5,980.7 671.0,980.7 671.0,988.0 673.5,988.0 673.5,983.6 676.0,983.6 676.0,967.7 678.5,967.7 678.5,967.7 681.0,967.7 681.0,974.6 683.5,974.6 683.5,974.6 686.0,974.6 686.0,976.4 688.5,976.4 688.5,976.4 691.0,976.4 691.0,984.3 693.5,984.3 693.5,983.1 696.0,983.1 696.0,976.5 698.5,976.5 698.5,996.2 701.0,996.2 701.0,981.9 703.5,981.9 703.5,984.6 706.0,984.6 706.0,985.9 708.5,985.9 708.5,979.5 711.0,979.5 711.0,979.6 713.5,979.6 713.5,975.5 716.0,975.5 716.0,969.2 718.5,969.2 718.5,968.9 721.0,968.9 721.0,978.0 723.5,978.0 723.5,955.1 726.0,955.1 726.0,970.9 728.5,970.9 728.5,975.2 731.0,975.2 731.0,978.7 733.5,978.7 733.5,962.0 736.0,962.0 736.0,981.2 738.5,981.2 738.5,961.4 741.0,961.4 741.0,961.4 743.5,961.4 743.5,968.0 746.0,968.0 746.0,966.6 748.5,966.6 748.5,956.8 751.0,956.8 751.0,960.2 753.5,960.2 753.5,953.4 756.0,953.4 756.0,966.5 758.5,966.5 758.5,964.6 761.0,964.6 761.0,952.7 763.5,952.7 763.5,947.2 766.0,947.2 766.0,953.5 768.5,953.5 768.5,953.5 771.0,953.5 771.0,952.0 773.5,952.0 773.5,935.6 776.0,935.6 776.0,946.7 778.5,946.7 778.5,938.0 781.0,938.0 781.0,952.7 783.5,952.7 783.5,953.5 786.0,953.5 786.0,937.9 788.5,937.9 788.5,936.7 791.0,936.7 791.0,934.4 793.5,934.4 793.5,944.8 796.0,944.8 796.0,957.5 798.5,957.5 798.5,968.1 801.0,968.1 801.0,954.8 803.5,954.8 803.5,971.5 806.0,971.5 806.0,971.5 808.5,971.5 808.5,967.8 811.0,967.8 811.0,979.3 813.5,979.3 813.5,964.3 816.0,964.3 816.0,969.7 818.5,969.7 818.5,974.5 821.0,974.5 821.0,979.8 823.5,979.8 823.5,983.3 826.0,983.3 826.0,988.3 828.5,988.3 828.5,992.8 831.0,992.8 831.0,984.4 833.5,984.4 833.5,985.0 836.0,985.0 836.0,999.3 838.5,999.3 838.5,985.5 841.0,985.5 841.0,994.2 843.5,994.2 843.5,994.3 846.0,994.3 846.0,989.3 848.5,989.3 848.5,1002.7 851.0,1002.7 851.0,997.8 853.5,997.8 853.5,997.7 856.0,997.7 856.0,991.1 858.5,991.1 858.5,994.1 861.0,994.1 861.0,1005.1 863.5,1005.1 863.5,1009.1 866.0,1009.1 866.0,1000.4 868.5,1000.4 868.5,1004.5 871.0,1004.5 871.0,1005.6 873.5,1005.6 873.5,1006.8 876.0,1006.8 876.0,1002.8 878.5,1002.8 878.5,1007.2 881.0,1007.2 881.0,1011.1 883.5,1011.1 883.5,1002.0 886.0,1002.0 886.0,993.9 888.5,993.9 888.5,1016.3 891.0,1016.3 891.0,1012.7 893.5,1012.7 893.5,1001.3 896.0,1001.3 896.0,1007.1 898.5,1007.1 898.5,1004.2 901.0,1004.2 901.0,1003.0 903.5,1003.0 903.5,997.5 906.0,997.5 906.0,1012.6 908.5,1012.6 908.5,1001.4 911.0,1001.4 911.0,1001.3 913.5,1001.3 913.5,1005.2 916.0,1005.2 916.0,1004.8 918.5,1004.8 918.5,1008.5 921.0,1008.5 921.0,1016.0 923.5,1016.0 923.5,1013.8 926.0,1013.8 926.0,1010.9 928.5,1010.9 928.5,1013.7 931.0,1013.7 931.0,1009.7 933.5,1009.7 933.5,1012.3 936.0,1012.3 936.0,1012.8 938.5,1012.8 938.5,1012.8 941.0,1012.8 941.0,1014.9 943.5,1014.9 943.5,996.0 946.0,996.0 946.0,1017.4 948.5,1017.4 948.5,1003.2 951.0,1003.2 951.0,1003.2 953.5,1003.2 953.5,1005.0 956.0,1005.0 956.0,1008.3 958.5,1008.3 958.5,1008.3 961.0,1008.3 961.0,1013.1 963.5,1013.1 963.5,1009.5 966.0,1009.5 966.0,1007.5 968.5,1007.5 968.5,1007.5 971.0,1007.5 971.0,1018.4 973.5,1018.4 973.5,1012.9 976.0,1012.9 976.0,1012.9 978.5,1012.9 978.5,1013.0 981.0,1013.0 981.0,1007.4 983.5,1007.4 983.5,1008.1 986.0,1008.1 986.0,1011.3 988.5,1011.3 988.5,1009.8 991.0,1009.8 991.0,1015.2 993.5,1015.2 993.5,1012.9 996.0,1012.9 996.0,1016.9 998.5,1016.9 998.5,1011.9 1001.0,1011.9 1001.0,1012.3 1003.5,1012.3 1003.5,1000.5 1006.0,1000.5 1006.0,1013.7 1008.5,1013.7 1008.5,1016.4 1011.0,1016.4 1011.0,1010.1 1013.5,1010.1 1013.5,1019.0 1016.0,1019.0 1016.0,1015.9 1018.5,1015.9 1018.5,1015.5 1021.0,1015.5 1021.0,1011.8 1023.5,1011.8 1023.5,1012.2 1026.0,1012.2 1026.0,1018.8 1028.5,1018.8 1028.5,1008.9 1031.0,1008.9 1031.0,1011.9 1033.5,1011.9 1033.5,1010.3 1036.0,1010.3 1036.0,1013.5 1038.5,1013.5 1038.5,1003.5 1041.0,1003.5 1041.0,1009.1 1043.5,1009.1 1043.5,1010.7 1046.0,1010.7 1046.0,1008.0 1048.5,1008.0 1048.5,1012.2 1051.0,1012.2 1051.0,1010.0 1053.5,1010.0 1053.5,1016.8 1056.0,1016.8 1056.0,1011.2 1058.5,1011.2 1058.5,1011.2 1061.0,1011.2 1061.0,1006.0 1063.5,1006.0 1063.5,1014.2 1066.0,1014.2 1066.0,1010.6 1068.5,1010.6 1068.5,1012.8 1071.0,1012.8 1071.0,1012.8 1073.5,1012.8 1073.5,1012.9 1076.0,1012.9 1076.0,1005.0 1078.5,1005.0 1078.5,1003.0 1081.0,1003.0 1081.0,1003.0 1083.5,1003.0 1083.5,998.5 1086.0,998.5 1086.0,1013.1 1088.5,1013.1 1088.5,1011.2 1091.0,1011.2 1091.0,1012.2 1093.5,1012.2 1093.5,1006.7 1096.0,1006.7 1096.0,1000.3 1098.5,1000.3 1098.5,1014.5 1101.0,1014.5 1101.0,995.4 1103.5,995.4 1103.5,1011.3 1106.0,1011.3 1106.0,1005.4 1108.5,1005.4 1108.5,1011.6 1111.0,1011.6 1111.0,1009.1 1113.5,1009.1 1113.5,996.3 1116.0,996.3 1116.0,1004.7 1118.5,1004.7 1118.5,1009.1 1121.0,1009.1 1121.0,1001.1 1123.5,1001.1 1123.5,1004.0 1126.0,1004.0 1126.0,998.3 1128.5,998.3 1128.5,991.9 1131.0,991.9 1131.0,990.8 1133.5,990.8 1133.5,993.9 1136.0,993.9 1136.0,984.7 1138.5,984.7 1138.5,992.6 1141.0,992.6 1141.0,987.5 1143.5,987.5 1143.5,980.4 1146.0,980.4 1146.0,975.8 1148.5,975.8 1148.5,980.1 1151.0,980.1 1151.0,968.0 1153.5,968.0 1153.5,971.0 1156.0,971.0 1156.0,975.7 1158.5,975.7 1158.5,973.8 1161.0,973.8 1161.0,974.9 1163.5,974.9 1163.5,969.2 1166.0,969.2 1166.0,962.8 1168.5,962.8 1168.5,971.2 1171.0,971.2 1171.0,956.4 1173.5,956.4 1173.5,965.8 1176.0,965.8 1176.0,961.6 1178.5,961.6 1178.5,976.9 1181.0,976.9 1181.0,974.4 1183.5,974.4 1183.5,974.0 1186.0,974.0 1186.0,979.4 1188.5,979.4 1188.5,976.1 1191.0,976.1 1191.0,963.2 1193.5,963.2 1193.5,963.2 1196.0,963.2 1196.0,967.2 1198.5,967.2 1198.5,980.2 1201.0,980.2 1201.0,978.9 1203.5,978.9 1203.5,970.3 1206.0,970.3 1206.0,966.3 1208.5,966.3 1208.5,981.5 1211.0,981.5 1211.0,982.8 1213.5,982.8 1213.5,974.4 1216.0,974.4 1216.0,985.1 1218.5,985.1 1218.5,982.7 1221.0,982.7 1221.0,985.1 1223.5,985.1 1223.5,985.1 1226.0,985.1 1226.0,986.9 1228.5,986.9 1228.5,972.5 1231.0,972.5 1231.0,993.3 1233.5,993.3 1233.5,971.9 1236.0,971.9 1236.0,979.1 1238.5,979.1 1238.5,982.9 1241.0,982.9 1241.0,990.2 1243.5,990.2 1243.5,993.4 1246.0,993.4 1246.0,985.6 1248.5,985.6 1248.5,984.7 1251.0,984.7 1251.0,988.6 1253.5,988.6 1253.5,988.6 1256.0,988.6 1256.0,986.6 1258.5,986.6 1258.5,992.3 1261.0,992.3 1261.0,993.2 1263.5,993.2 1263.5,991.7 1266.0,991.7 1266.0,996.9 1268.5,996.9 1268.5,991.1 1271.0,991.1 1271.0,998.4 1273.5,998.4 1273.5,991.3 1276.0,991.3 1276.0,985.3 1278.5,985.3 1278.5,1000.9 1281.0,1000.9 1281.0,990.2 1283.5,990.2 1283.5,991.0 1286.0,991.0 1286.0,997.5 1288.5,997.5 1288.5,994.7 1291.0,994.7 1291.0,991.8 1293.5,991.8 1293.5,994.6 1296.0,994.6 1296.0,989.9 1298.5,989.9 1298.5,1001.2 1301.0,1001.2 1301.0,1007.8 1303.5,1007.8 1303.5,994.9 1306.0,994.9 1306.0,994.1 1308.5,994.1 1308.5,1003.4 1311.0,1003.4 1311.0,998.5 1313.5,998.5 1313.5,997.9 1316.0,997.9 1316.0,998.8 1318.5,998.8 1318.5,1005.3 1321.0,1005.3 1321.0,999.6 1323.5,999.6 1323.5,1006.0 1326.0,1006.0 1326.0,1000.2 1328.5,1000.2 1328.5,990.3 1331.0,990.3 1331.0,994.6 1333.5,994.6 1333.5,1011.1 1335.5,1011.1 1335.5,1031.8 1333.5,1031.8 1333.5,1031.8 1331.0,1031.8 1331.0,1037.7 1328.5,1037.7 1328.5,1030.0 1326.0,1030.0 1326.0,1022.6 1323.5,1022.6 1323.5,1024.0 1321.0,1024.0 1321.0,1022.6 1318.5,1022.6 1318.5,1017.3 1316.0,1017.3 1316.0,1019.1 1313.5,1019.1 1313.5,1019.1 1311.0,1019.1 1311.0,1019.4 1308.5,1019.4 1308.5,1014.2 1306.0,1014.2 1306.0,1019.5 1303.5,1019.5 1303.5,1023.2 1301.0,1023.2 1301.0,1024.7 1298.5,1024.7 1298.5,1029.1 1296.0,1029.1 1296.0,1014.4 1293.5,1014.4 1293.5,1017.0 1291.0,1017.0 1291.0,1017.0 1288.5,1017.0 1288.5,1009.5 1286.0,1009.5 1286.0,1014.0 1283.5,1014.0 1283.5,1019.8 1281.0,1019.8 1281.0,1019.8 1278.5,1019.8 1278.5,1017.0 1276.0,1017.0 1276.0,1007.0 1273.5,1007.0 1273.5,1015.0 1271.0,1015.0 1271.0,1015.6 1268.5,1015.6 1268.5,1012.8 1266.0,1012.8 1266.0,1026.3 1263.5,1026.3 1263.5,1011.6 1261.0,1011.6 1261.0,1015.0 1258.5,1015.0 1258.5,1011.7 1256.0,1011.7 1256.0,1012.5 1253.5,1012.5 1253.5,1018.8 1251.0,1018.8 1251.0,1018.8 1248.5,1018.8 1248.5,1006.7 1246.0,1006.7 1246.0,1018.7 1243.5,1018.7 1243.5,1015.1 1241.0,1015.1 1241.0,1010.1 1238.5,1010.1 1238.5,1026.3 1236.0,1026.3 1236.0,1015.3 1233.5,1015.3 1233.5,1015.3 1231.0,1015.3 1231.0,1014.5 1228.5,1014.5 1228.5,1010.4 1226.0,1010.4 1226.0,1021.9 1223.5,1021.9 1223.5,1004.6 1221.0,1004.6 1221.0,1009.6 1218.5,1009.6 1218.5,1014.2 1216.0,1014.2 1216.0,1009.5 1213.5,1009.5 1213.5,993.0 1211.0,993.0 1211.0,1007.7 1208.5,1007.7 1208.5,1004.0 1206.0,1004.0 1206.0,1011.5 1203.5,1011.5 1203.5,1001.2 1201.0,1001.2 1201.0,997.6 1198.5,997.6 1198.5,1003.2 1196.0,1003.2 1196.0,1003.2 1193.5,1003.2 1193.5,995.7 1191.0,995.7 1191.0,994.0 1188.5,994.0 1188.5,993.8 1186.0,993.8 1186.0,1002.6 1183.5,1002.6 1183.5,1007.9 1181.0,1007.9 1181.0,1008.3 1178.5,1008.3 1178.5,1009.3 1176.0,1009.3 1176.0,1002.9 1173.5,1002.9 1173.5,995.8 1171.0,995.8 1171.0,1012.9 1168.5,1012.9 1168.5,998.7 1166.0,998.7 1166.0,998.7 1163.5,998.7 1163.5,1013.9 1161.0,1013.9 1161.0,1001.4 1158.5,1001.4 1158.5,1006.9 1156.0,1006.9 1156.0,1005.9 1153.5,1005.9 1153.5,1013.2 1151.0,1013.2 1151.0,1007.9 1148.5,1007.9 1148.5,1020.3 1146.0,1020.3 1146.0,1015.8 1143.5,1015.8 1143.5,1034.2 1141.0,1034.2 1141.0,1016.9 1138.5,1016.9 1138.5,1018.6 1136.0,1018.6 1136.0,1022.5 1133.5,1022.5 1133.5,1020.5 1131.0,1020.5 1131.0,1023.2 1128.5,1023.2 1128.5,1019.0 1126.0,1019.0 1126.0,1015.8 1123.5,1015.8 1123.5,1024.6 1121.0,1024.6 1121.0,1022.2 1118.5,1022.2 1118.5,1026.1 1116.0,1026.1 1116.0,1026.3 1113.5,1026.3 1113.5,1030.7 1111.0,1030.7 1111.0,1027.7 1108.5,1027.7 1108.5,1028.3 1106.0,1028.3 1106.0,1028.3 1103.5,1028.3 1103.5,1019.4 1101.0,1019.4 1101.0,1028.2 1098.5,1028.2 1098.5,1030.1 1096.0,1030.1 1096.0,1035.7 1093.5,1035.7 1093.5,1030.8 1091.0,1030.8 1091.0,1030.5 1088.5,1030.5 1088.5,1024.2 1086.0,1024.2 1086.0,1027.6 1083.5,1027.6 1083.5,1024.8 1081.0,1024.8 1081.0,1026.8 1078.5,1026.8 1078.5,1034.0 1076.0,1034.0 1076.0,1034.0 1073.5,1034.0 1073.5,1034.7 1071.0,1034.7 1071.0,1035.9 1068.5,1035.9 1068.5,1042.6 1066.0,1042.6 1066.0,1031.5 1063.5,1031.5 1063.5,1034.2 1061.0,1034.2 1061.0,1029.8 1058.5,1029.8 1058.5,1041.2 1056.0,1041.2 1056.0,1038.3 1053.5,1038.3 1053.5,1034.3 1051.0,1034.3 1051.0,1034.4 1048.5,1034.4 1048.5,1031.3 1046.0,1031.3 1046.0,1029.6 1043.5,1029.6 1043.5,1037.2 1041.0,1037.2 1041.0,1029.0 1038.5,1029.0 1038.5,1027.1 1036.0,1027.1 1036.0,1033.6 1033.5,1033.6 1033.5,1030.2 1031.0,1030.2 1031.0,1029.1 1028.5,1029.1 1028.5,1032.4 1026.0,1032.4 1026.0,1032.4 1023.5,1032.4 1023.5,1025.7 1021.0,1025.7 1021.0,1037.2 1018.5,1037.2 1018.5,1031.5 1016.0,1031.5 1016.0,1037.8 1013.5,1037.8 1013.5,1038.7 1011.0,1038.7 1011.0,1036.0 1008.5,1036.0 1008.5,1031.9 1006.0,1031.9 1006.0,1024.1 1003.5,1024.1 1003.5,1028.3 1001.0,1028.3 1001.0,1031.9 998.5,1031.9 998.5,1039.3 996.0,1039.3 996.0,1039.0 993.5,1039.0 993.5,1034.6 991.0,1034.6 991.0,1034.6 988.5,1034.6 988.5,1028.4 986.0,1028.4 986.0,1031.8 983.5,1031.8 983.5,1033.3 981.0,1033.3 981.0,1032.2 978.5,1032.2 978.5,1032.6 976.0,1032.6 976.0,1032.1 973.5,1032.1 973.5,1033.6 971.0,1033.6 971.0,1034.8 968.5,1034.8 968.5,1037.2 966.0,1037.2 966.0,1038.4 963.5,1038.4 963.5,1038.4 961.0,1038.4 961.0,1037.1 958.5,1037.1 958.5,1030.3 956.0,1030.3 956.0,1039.1 953.5,1039.1 953.5,1032.4 951.0,1032.4 951.0,1031.6 948.5,1031.6 948.5,1041.1 946.0,1041.1 946.0,1044.3 943.5,1044.3 943.5,1030.6 941.0,1030.6 941.0,1030.6 938.5,1030.6 938.5,1030.2 936.0,1030.2 936.0,1029.2 933.5,1029.2 933.5,1043.7 931.0,1043.7 931.0,1027.9 928.5,1027.9 928.5,1040.1 926.0,1040.1 926.0,1036.5 923.5,1036.5 923.5,1031.4 921.0,1031.4 921.0,1034.3 918.5,1034.3 918.5,1028.3 916.0,1028.3 916.0,1031.0 913.5,1031.0 913.5,1031.0 911.0,1031.0 911.0,1029.0 908.5,1029.0 908.5,1025.3 906.0,1025.3 906.0,1029.3 903.5,1029.3 903.5,1029.3 901.0,1029.3 901.0,1021.4 898.5,1021.4 898.5,1025.3 896.0,1025.3 896.0,1027.0 893.5,1027.0 893.5,1027.0 891.0,1027.0 891.0,1024.5 888.5,1024.5 888.5,1033.5 886.0,1033.5 886.0,1026.2 883.5,1026.2 883.5,1026.0 881.0,1026.0 881.0,1030.1 878.5,1030.1 878.5,1023.8 876.0,1023.8 876.0,1026.8 873.5,1026.8 873.5,1025.1 871.0,1025.1 871.0,1023.4 868.5,1023.4 868.5,1023.4 866.0,1023.4 866.0,1023.4 863.5,1023.4 863.5,1028.3 861.0,1028.3 861.0,1019.1 858.5,1019.1 858.5,1018.0 856.0,1018.0 856.0,1020.7 853.5,1020.7 853.5,1022.4 851.0,1022.4 851.0,1021.9 848.5,1021.9 848.5,1020.4 846.0,1020.4 846.0,1026.9 843.5,1026.9 843.5,1014.3 841.0,1014.3 841.0,1016.2 838.5,1016.2 838.5,1024.7 836.0,1024.7 836.0,1008.7 833.5,1008.7 833.5,1015.4 831.0,1015.4 831.0,1007.5 828.5,1007.5 828.5,1008.8 826.0,1008.8 826.0,1008.8 823.5,1008.8 823.5,1008.4 821.0,1008.4 821.0,1027.4 818.5,1027.4 818.5,1008.9 816.0,1008.9 816.0,1004.1 813.5,1004.1 813.5,1000.9 811.0,1000.9 811.0,1001.5 808.5,1001.5 808.5,1004.5 806.0,1004.5 806.0,999.2 803.5,999.2 803.5,977.8 801.0,977.8 801.0,984.7 798.5,984.7 798.5,991.5 796.0,991.5 796.0,978.6 793.5,978.6 793.5,980.5 791.0,980.5 791.0,970.0 788.5,970.0 788.5,970.0 786.0,970.0 786.0,977.2 783.5,977.2 783.5,969.7 781.0,969.7 781.0,978.5 778.5,978.5 778.5,978.2 776.0,978.2 776.0,969.4 773.5,969.4 773.5,990.2 771.0,990.2 771.0,990.2 768.5,990.2 768.5,978.8 766.0,978.8 766.0,985.2 763.5,985.2 763.5,985.7 761.0,985.7 761.0,976.2 758.5,976.2 758.5,981.7 756.0,981.7 756.0,985.0 753.5,985.0 753.5,1000.2 751.0,1000.2 751.0,997.2 748.5,997.2 748.5,1005.7 746.0,1005.7 746.0,1005.0 743.5,1005.0 743.5,991.7 741.0,991.7 741.0,998.7 738.5,998.7 738.5,1000.9 736.0,1000.9 736.0,1014.1 733.5,1014.1 733.5,1014.1 731.0,1014.1 731.0,994.6 728.5,994.6 728.5,1009.0 726.0,1009.0 726.0,1005.4 723.5,1005.4 723.5,993.5 721.0,993.5 721.0,1005.2 718.5,1005.2 718.5,1005.2 716.0,1005.2 716.0,1000.3 713.5,1000.3 713.5,1002.5 711.0,1002.5 711.0,1011.5 708.5,1011.5 708.5,1002.7 706.0,1002.7 706.0,1006.4 703.5,1006.4 703.5,1013.9 701.0,1013.9 701.0,1017.3 698.5,1017.3 698.5,1013.3 696.0,1013.3 696.0,1013.7 693.5,1013.7 693.5,1019.8 691.0,1019.8 691.0,1022.1 688.5,1022.1 688.5,1021.7 686.0,1021.7 686.0,1013.7 683.5,1013.7 683.5,1013.1 681.0,1013.1 681.0,1005.7 678.5,1005.7 678.5,1018.8 676.0,1018.8 676.0,1008.2 673.5,1008.2 673.5,1010.9 671.0,1010.9 671.0,1013.9 668.5,1013.9 668.5,1010.1 666.0,1010.1 666.0,1010.1 663.5,1010.1 663.5,1015.4 661.0,1015.4 661.0,1010.7 658.5,1010.7 658.5,1015.7 656.0,1015.7 656.0,1015.7 653.5,1015.7 653.5,1004.1 651.0,1004.1 651.0,1009.7 648.5,1009.7 648.5,1001.2 646.0,1001.2 646.0,1009.3 643.5,1009.3 643.5,1011.2 641.0,1011.2 641.0,994.1 638.5,994.1 638.5,998.4 636.0,998.4 636.0,995.0 633.5,995.0 633.5,988.7 631.0,988.7 631.0,984.0 628.5,984.0 628.5,986.8 626.0,986.8 626.0,982.5 623.5,982.5 623.5,979.6 621.0,979.6 621.0,985.0 618.5,985.0 618.5,977.7 616.0,977.7 616.0,983.6 613.5,983.6 613.5,983.6 611.0,983.6 611.0,962.9 608.5,962.9 608.5,968.4 606.0,968.4 606.0,970.7 603.5,970.7 603.5,975.0 601.0,975.0 601.0,979.2 598.5,979.2 598.5,985.3 596.0,985.3 596.0,994.6 593.5,994.6 593.5,984.7 591.0,984.7 591.0,988.8 588.5,988.8 588.5,986.2 586.0,986.2 586.0,989.2 583.5,989.2 583.5,985.3 581.0,985.3 581.0,1005.0 578.5,1005.0 578.5,999.5 576.0,999.5 576.0,999.9 573.5,999.9 573.5,1003.4 571.0,1003.4 571.0,1018.8 568.5,1018.8 568.5,1018.8 566.0,1018.8 566.0,1007.4 563.5,1007.4 563.5,1009.1 561.0,1009.1 561.0,1004.9 558.5,1004.9 558.5,1010.8 556.0,1010.8 556.0,1016.5 553.5,1016.5 553.5,1011.4 551.0,1011.4 551.0,1019.2 548.5,1019.2 548.5,1019.4 546.0,1019.4 546.0,1025.5 543.5,1025.5 543.5,1012.8 541.0,1012.8 541.0,1013.0 538.5,1013.0 538.5,1019.6 536.0,1019.6 536.0,1010.0 533.5,1010.0 533.5,1009.4 531.0,1009.4 531.0,1028.0 528.5,1028.0 528.5,1018.5 526.0,1018.5 526.0,1021.6 523.5,1021.6 523.5,1020.5 521.0,1020.5 521.0,1015.7 518.5,1015.7 518.5,1015.2 516.0,1015.2 516.0,1006.5 513.5,1006.5 513.5,1025.9 511.0,1025.9 511.0,1025.9 508.5,1025.9 508.5,1018.3 506.0,1018.3 506.0,1024.4 503.5,1024.4 503.5,1015.4 501.0,1015.4 501.0,1017.4 498.5,1017.4 498.5,1035.0 496.0,1035.0 496.0,1020.7 493.5,1020.7 493.5,1021.0 491.0,1021.0 491.0,1019.8 488.5,1019.8 488.5,1026.2 486.0,1026.2 486.0,1017.1 483.5,1017.1 483.5,1018.6 481.0,1018.6 481.0,1025.4 478.5,1025.4 478.5,1008.3 476.0,1008.3 476.0,1014.8 473.5,1014.8 473.5,1027.3 471.0,1027.3 471.0,1027.3 468.5,1027.3 468.5,1015.0 466.0,1015.0 466.0,1002.9 463.5,1002.9 463.5,1012.4 461.0,1012.4 461.0,1015.6 458.5,1015.6 458.5,1023.9 456.0,1023.9 456.0,1004.3 453.5,1004.3 453.5,1008.8 451.0,1008.8 451.0,1008.8 448.5,1008.8 448.5,1011.3 446.0,1011.3 446.0,1006.9 443.5,1006.9 443.5,1010.1 441.0,1010.1 441.0,1010.1 438.5,1010.1 438.5,1025.8 436.0,1025.8 436.0,1002.5 433.5,1002.5 433.5,1003.6 431.0,1003.6 431.0,1002.8 428.5,1002.8 428.5,1004.2 426.0,1004.2 426.0,1008.2 423.5,1008.2 423.5,998.2 421.0,998.2 421.0,1005.0 418.5,1005.0 418.5,999.8 416.0,999.8 416.0,1002.7 413.5,1002.7 413.5,1011.9 411.0,1011.9 411.0,1011.9 408.5,1011.9 408.5,1002.3 406.0,1002.3 406.0,1006.9 403.5,1006.9 403.5,1001.7 401.0,1001.7 401.0,996.3 398.5,996.3 398.5,997.4 396.0,997.4 396.0,984.7 393.5,984.7 393.5,1012.2 391.0,1012.2 391.0,986.7 388.5,986.7 388.5,992.3 386.0,992.3 386.0,993.6 383.5,993.6 383.5,993.6 381.0,993.6 381.0,982.5 378.5,982.5 378.5,1000.9 376.0,1000.9 376.0,990.1 373.5,990.1 373.5,983.9 371.0,983.9 371.0,990.4 368.5,990.4 368.5,990.4 366.0,990.4 366.0,970.8 363.5,970.8 363.5,968.8 361.0,968.8 361.0,972.1 358.5,972.1 358.5,964.6 356.0,964.6 356.0,972.8 353.5,972.8 353.5,986.2 351.0,986.2 351.0,971.6 348.5,971.6 348.5,949.3 346.0,949.3 346.0,964.0 343.5,964.0 343.5,976.8 341.0,976.8 341.0,961.9 338.5,961.9 338.5,959.2 336.0,959.2 336.0,956.6 333.5,956.6 333.5,941.6 331.0,941.6 331.0,961.7 328.5,961.7 328.5,961.7 326.0,961.7 326.0,939.2 323.5,939.2 323.5,965.7 321.0,965.7 321.0,965.7 318.5,965.7 318.5,949.7 316.0,949.7 316.0,956.3 313.5,956.3 313.5,959.2 311.0,959.2 311.0,954.4 308.5,954.4 308.5,963.0 306.0,963.0 306.0,949.7 303.5,949.7 303.5,956.2 301.0,956.2 301.0,956.2 298.5,956.2 298.5,944.5 296.0,944.5 296.0,945.0 293.5,945.0 293.5,949.1 291.0,949.1 291.0,945.4 288.5,945.4 288.5,976.2 286.0,976.2 286.0,940.1 283.5,940.1 283.5,939.6 281.0,939.6 281.0,948.8 278.5,948.8 278.5,924.3 276.0,924.3 276.0,965.9 273.5,965.9 273.5,944.3 271.0,944.3 271.0,968.6 268.5,968.6 268.5,925.0 266.0,925.0 266.0,941.4 263.5,941.4 263.5,929.4 261.0,929.4 261.0,924.7 258.5,924.7 258.5,945.4 256.0,945.4 256.0,943.7 253.5,943.7 253.5,943.8 251.0,943.8 251.0,926.6 248.5,926.6 248.5,933.9 246.0,933.9 246.0,926.2 243.5,926.2 243.5,929.3 241.0,929.3 241.0,928.6 238.5,928.6 238.5,928.6 236.0,928.6 236.0,928.5 233.5,928.5 233.5,929.5 231.0,929.5 231.0,908.1 228.5,908.1 228.5,912.3 226.0,912.3 226.0,926.3 223.5,926.3 223.5,896.7 221.0,896.7 221.0,910.1 218.5,910.1 218.5,909.6 216.0,909.6 216.0,909.2 213.5,909.2 213.5,924.9 211.0,924.9 211.0,892.0 208.5,892.0 208.5,902.1 206.0,902.1 206.0,902.3 203.5,902.3 203.5,866.8 201.0,866.8 201.0,880.2 198.5,880.2 198.5,903.1 196.0,903.1 196.0,881.2 193.5,881.2 193.5,880.6 191.0,880.6 191.0,873.1 188.5,873.1 188.5,910.8 186.0,910.8 186.0,878.3 183.5,878.3 183.5,895.4 181.0,895.4 181.0,862.1 178.5,862.1 178.5,869.8 176.0,869.8 176.0,866.9 173.5,866.9 173.5,873.1 171.0,873.1 171.0,849.6 168.5,849.6 168.5,858.6 166.0,858.6 166.0,847.4 163.5,847.4 163.5,842.6 161.0,842.6 161.0,836.3 158.5,836.3 158.5,825.8 156.0,825.8 156.0,815.3 153.5,815.3 153.5,838.6 151.0,838.6 151.0,807.7 148.5,807.7 148.5,838.1 146.0,838.1 146.0,819.5 143.5,819.5 143.5,802.5 141.0,802.5 141.0,816.0 138.5,816.0 138.5,813.5 136.0,813.5 136.0,823.9 133.5,823.9 133.5,776.9 131.0,776.9 131.0,790.4 128.5,790.4 128.5,790.4 126.0,790.4 126.0,772.6 123.5,772.6 123.5,788.9 121.0,788.9 121.0,778.7 118.5,778.7 118.5,755.4 116.0,755.4 116.0,789.7 113.5,789.7 113.5,760.9 111.0,760.9 111.0,758.7 108.5,758.7 108.5,764.3 106.0,764.3 106.0,737.5 103.5,737.5 103.5,754.0 101.0,754.0 101.0,717.4 98.5,717.4 98.5,705.4 96.0,705.4 96.0,708.6 93.5,708.6 93.5,720.7 91.0,720.7" fill="#800080"/>
<polygon points="91.0,155.0 93.5,155.0 93.5,163.0 96.0,163.0 96.0,173.1 98.5,173.1 98.5,155.0 101.0,155.0 101.0,155.0 103.5,155.0 103.5,193.0 106.0,193.0 106.0,185.0 108.5,185.0 108.5,207.0 111.0,207.0 111.0,217.1 113.5,217.1 113.5,212.4 116.0,212.4 116.0,219.9 118.5,219.9 118.5,211.0 121.0,211.0 121.0,222.8 123.5,222.8 123.5,224.0 126.0,224.0 126.0,251.5 128.5,251.5 128.5,224.9 131.0,224.9 131.0,247.9 133.5,247.9 133.5,257.6 136.0,257.6 136.0,279.8 138.5,279.8 138.5,280.5 141.0,280.5 141.0,252.3 143.5,252.3 143.5,282.1 146.0,282.1 146.0,295.7 148.5,295.7 148.5,293.1 151.0,293.1 151.0,298.3 153.5,298.3 153.5,302.4 156.0,302.4 156.0,283.6 158.5,283.6 158.5,318.5 161.0,318.5 161.0,306.6 163.5,306.6 163.5,306.6 166.0,306.6 166.0,326.6 168.5,326.6 168.5,320.5 171.0,320.5 171.0,300.8 173.5,300.8 173.5,337.7 176.0,337.7 176.0,338.0 178.5,338.0 178.5,345.0 181.0,345.0 181.0,359.9 183.5,359.9 183.5,348.9 186.0,348.9 186.0,337.8 188.5,337.8 188.5,350.7 191.0,350.7 191.0,350.1 193.5,350.1 193.5,352.6 196.0,352.6 196.0,369.0 198.5,369.0 198.5,354.5 201.0,354.5 201.0,363.0 203.5,363.0 203.5,345.0 206.0,345.0 206.0,359.3 208.5,359.3 208.5,369.3 211.0,369.3 211.0,369.3 213.5,369.3 213.5,382.8 216.0,382.8 216.0,386.8 218.5,386.8 218.5,392.5 221.0,392.5 221.0,377.8 223.5,377.8 223.5,377.8 226.0,377.8 226.0,393.3 228.5,393.3 228.5,393.1 231.0,393.1 231.0,379.4 233.5,379.4 233.5,397.8 236.0,397.8 236.0,395.0 238.5,395.0 238.5,407.7 241.0,407.7 241.0,414.8 243.5,414.8 243.5,401.9 246.0,401.9 246.0,408.3 248.5,408.3 248.5,419.3 251.0,419.3 251.0,419.3 253.5,419.3 253.5,410.6 256.0,410.6 256.0,417.4 258.5,417.4 258.5,414.9 261.0,414.9 261.0,405.1 263.5,405.1 263.5,423.2 266.0,423.2 266.0,437.0 268.5,437.0 268.5,432.9 271.0,432.9 271.0,425.4 273.5,425.4 273.5,425.1 276.0,425.1 276.0,436.5 278.5,436.5 278.5,431.4 281.0,431.4 281.0,445.1 283.5,445.1 283.5,438.3 286.0,438.3 286.0,421.8 288.5,421.8 288.5,435.8 291.0,435.8 291.0,442.6 293.5,442.6 293.5,427.8 296.0,427.8 296.0,412.6 298.5,412.6 298.5,424.1 301.0,424.1 301.0,425.0 303.5,425.0 303.5,425.0 306.0,425.0 306.0,419.6 308.5,419.6 308.5,419.6 311.0,419.6 311.0,412.7 313.5,412.7 313.5,423.8 316.0,423.8 316.0,427.4 318.5,427.4 318.5,423.8 321.0,423.8 321.0,417.4 323.5,417.4 323.5,428.5 326.0,428.5 326.0,408.4 328.5,408.4 328.5,406.4 331.0,406.4 331.0,408.9 333.5,408.9 333.5,393.3 336.0,393.3 336.0,387.5 338.5,387.5 338.5,411.7 341.0,411.7 341.0,423.6 343.5,423.6 343.5,415.6 346.0,415.6 346.0,416.8 348.5,416.8 348.5,431.7 351.0,431.7 351.0,431.7 353.5,431.7 353.5,422.0 356.0,422.0 356.0,447.0 358.5,447.0 358.5,436.5 361.0,436.5 361.0,452.6 363.5,452.6 363.5,443.1 366.0,443.1 366.0,445.9 368.5,445.9 368.5,454.3 371.0,454.3 371.0,466.4 373.5,466.4 373.5,477.5 376.0,477.5 376.0,459.6 378.5,459.6 378.5,481.7 381.0,481.7 381.0,454.8 383.5,454.8 383.5,454.8 386.0,454.8 386.0,472.4 388.5,472.4 388.5,489.3 391.0,489.3 391.0,495.1 393.5,495.1 393.5,494.6 396.0,494.6 396.0,494.5 398.5,494.5 398.5,488.8 401.0,488.8 401.0,496.5 403.5,496.5 403.5,498.2 406.0,498.2 406.0,496.7 408.5,496.7 408.5,504.2 411.0,504.2 411.0,495.3 413.5,495.3 413.5,492.3 416.0,492.3 416.0,501.6 418.5,501.6 418.5,501.6 421.0,501.6 421.0,500.8 423.5,500.8 423.5,492.4 426.0,492.4 426.0,508.3 428.5,508.3 428.5,508.3 431.0,508.3 431.0,512.7 433.5,512.7 433.5,516.6 436.0,516.6 436.0,510.4 438.5,510.4 438.5,507.4 441.0,507.4 441.0,511.8 443.5,511.8 443.5,502.6 446.0,502.6 446.0,521.8 448.5,521.8 448.5,522.4 451.0,522.4 451.0,519.9 453.5,519.9 453.5,513.7 456.0,513.7 456.0,514.0 458.5,514.0 458.5,520.8 461.0,520.8 461.0,520.8 463.5,520.8 463.5,507.5 466.0,507.5 466.0,512.4 468.5,512.4 468.5,514.9 471.0,514.9 471.0,518.2 473.5,518.2 473.5,518.5 476.0,518.5 476.0,526.7 478.5,526.7 478.5,519.6 481.0,519.6 481.0,516.8 483.5,516.8 483.5,520.9 486.0,520.9 486.0,515.2 488.5,515.2 488.5,526.7 491.0,526.7 491.0,525.4 493.5,525.4 493.5,525.2 496.0,525.2 496.0,525.2 498.5,525.2 498.5,526.0 501.0,526.0 501.0,528.6 503.5,528.6 503.5,515.3 506.0,515.3 506.0,515.3 508.5,515.3 508.5,514.0 511.0,514.0 511.0,520.1 513.5,520.1 513.5,522.5 516.0,522.5 516.0,531.5 518.5,531.5 518.5,529.6 521.0,529.6 521.0,523.4 523.5,523.4 523.5,507.8 526.0,507.8 526.0,524.0 528.5,524.0 528.5,515.4 531.0,515.4 531.0,521.0 533.5,521.0 533.5,521.0 536.0,521.0 536.0,523.1 538.5,523.1 538.5,529.3 541.0,529.3 541.0,526.3 543.5,526.3 543.5,528.8 546.0,528.8 546.0,521.6 548.5,521.6 548.5,533.0 551.0,533.0 551.0,529.9 553.5,529.9 553.5,531.3 556.0,531.3 556.0,533.4 558.5,533.4 558.5,531.0 561.0,531.0 561.0,525.6 563.5,525.6 563.5,515.5 566.0,515.5 566.0,520.7 568.5,520.7 568.5,506.8 571.0,506.8 571.0,504.8 573.5,504.8 573.5,500.5 576.0,500.5 576.0,498.4 578.5,498.4 578.5,498.4 581.0,498.4 581.0,489.1 583.5,489.1 583.5,475.2 586.0,475.2 586.0,494.9 588.5,494.9 588.5,471.6 591.0,471.6 591.0,466.0 593.5,466.0 593.5,466.6 596.0,466.6 596.0,448.9 598.5,448.9 598.5,448.9 601.0,448.9 601.0,452.8 603.5,452.8 603.5,436.4 606.0,436.4 606.0,444.2 608.5,444.2 608.5,434.5 611.0,434.5 611.0,434.5 613.5,434.5 613.5,460.3 616.0,460.3 616.0,458.0 618.5,458.0 618.5,469.8 621.0,469.8 621.0,460.8 623.5,460.8 623.5,468.6 626.0,468.6 626.0,456.8 628.5,456.8 628.5,468.6 631.0,468.6 631.0,492.9 633.5,492.9 633.5,486.2 636.0,486.2 636.0,487.9 638.5,487.9 638.5,487.9 641.0,487.9 641.0,479.7 643.5,479.7 643.5,491.9 646.0,491.9 646.0,487.6 648.5,487.6 648.5,512.5 651.0,512.5 651.0,502.7 653.5,502.7 653.5,503.8 656.0,503.8 656.0,517.2 658.5,517.2 658.5,515.8 661.0,515.8 661.0,496.8 663.5,496.8 663.5,504.9 666.0,504.9 666.0,510.7 668.5,510.7 668.5,504.5 671.0,504.5 671.0,508.8 673.5,508.8 673.5,504.7 676.0,504.7 676.0,504.8 678.5,504.8 678.5,504.8 681.0,504.8 681.0,513.6 683.5,513.6 683.5,513.6 686.0,513.6 686.0,512.0 688.5,512.0 688.5,498.6 691.0,498.6 691.0,505.8 693.5,505.8 693.5,506.7 696.0,506.7 696.0,495.4 698.5,495.4 698.5,514.0 701.0,514.0 701.0,502.9 703.5,502.9 703.5,511.0 706.0,511.0 706.0,505.4 708.5,505.4 708.5,515.6 711.0,515.6 711.0,499.9 713.5,499.9 713.5,499.9 716.0,499.9 716.0,509.5 718.5,509.5 718.5,517.8 721.0,517.8 721.0,517.3 723.5,517.3 723.5,515.8 726.0,515.8 726.0,505.8 728.5,505.8 728.5,509.8 731.0,509.8 731.0,514.1 733.5,514.1 733.5,514.1 736.0,514.1 736.0,512.3 738.5,512.3 738.5,509.0 741.0,509.0 741.0,509.2 743.5,509.2 743.5,497.8 746.0,497.8 746.0,513.0 748.5,513.0 748.5,512.1 751.0,512.1 751.0,518.2 753.5,518.2 753.5,516.4 756.0,516.4 756.0,523.8 758.5,523.8 758.5,508.4 761.0,508.4 761.0,513.1 763.5,513.1 763.5,513.1 766.0,513.1 766.0,525.4 768.5,525.4 768.5,525.8 771.0,525.8 771.0,522.3 773.5,522.3 773.5,522.3 776.0,522.3 776.0,529.2 778.5,529.2 778.5,524.4 781.0,524.4 781.0,530.8 783.5,530.8 783.5,522.6 786.0,522.6 786.0,522.6 788.5,522.6 788.5,531.9 791.0,531.9 791.0,536.1 793.5,536.1 793.5,519.8 796.0,519.8 796.0,527.8 798.5,527.8 798.5,524.3 801.0,524.3 801.0,539.5 803.5,539.5 803.5,527.7 806.0,527.7 806.0,527.8 808.5,527.8 808.5,539.6 811.0,539.6 811.0,534.4 813.5,534.4 813.5,537.2 816.0,537.2 816.0,540.7 818.5,540.7 818.5,541.1 821.0,541.1 821.0,543.5 823.5,543.5 823.5,535.4 826.0,535.4 826.0,538.8 828.5,538.8 828.5,547.0 831.0,547.0 831.0,543.7 833.5,543.7 833.5,549.3 836.0,549.3 836.0,542.1 838.5,542.1 838.5,542.7 841.0,542.7 841.0,545.1 843.5,545.1 843.5,545.6 846.0,545.6 846.0,536.8 848.5,536.8 848.5,538.4 851.0,538.4 851.0,539.3 853.5,539.3 853.5,541.3 856.0,541.3 856.0,546.4 858.5,546.4 858.5,536.2 861.0,536.2 861.0,541.1 863.5,541.1 863.5,545.9 866.0,545.9 866.0,543.5 868.5,543.5 868.5,544.1 871.0,544.1 871.0,541.1 873.5,541.1 873.5,546.5 876.0,546.5 876.0,541.4 878.5,541.4 878.5,541.4 881.0,541.4 881.0,545.5 883.5,545.5 883.5,545.4 886.0,545.4 886.0,533.0 888.5,533.0 888.5,533.0 891.0,533.0 891.0,551.8 893.5,551.8 893.5,544.5 896.0,544.5 896.0,545.6 898.5,545.6 898.5,545.3 901.0,545.3 901.0,552.2 903.5,552.2 903.5,549.8 906.0,549.8 906.0,549.3 908.5,549.3 908.5,552.5 911.0,552.5 911.0,551.0 913.5,551.0 913.5,546.9 916.0,546.9 916.0,548.7 918.5,548.7 918.5,553.9 921.0,553.9 921.0,550.5 923.5,550.5 923.5,552.7 926.0,552.7 926.0,547.5 928.5,547.5 928.5,548.1 931.0,548.1 931.0,557.9 933.5,557.9 933.5,549.7 936.0,549.7 936.0,555.9 938.5,555.9 938.5,546.9 941.0,546.9 941.0,550.4 943.5,550.4 943.5,561.4 946.0,561.4 946.0,550.0 948.5,550.0 948.5,553.5 951.0,553.5 951.0,547.3 953.5,547.3 953.5,551.8 956.0,551.8 956.0,556.7 958.5,556.7 958.5,554.9 961.0,554.9 961.0,553.2 963.5,553.2 963.5,562.1 966.0,562.1 966.0,549.0 968.5,549.0 968.5,555.3 971.0,555.3 971.0,550.9 973.5,550.9 973.5,558.5 976.0,558.5 976.0,551.4 978.5,551.4 978.5,553.8 981.0,553.8 981.0,554.1 983.5,554.1 983.5,551.5 986.0,551.5 986.0,555.6 988.5,555.6 988.5,556.1 991.0,556.1 991.0,557.2 993.5,557.2 993.5,550.5 996.0,550.5 996.0,553.5 998.5,553.5 998.5,550.3 1001.0,550.3 1001.0,552.8 1003.5,552.8 1003.5,552.8 1006.0,552.8 1006.0,553.3 1008.5,553.3 1008.5,544.6 1011.0,544.6 1011.0,544.1 1013.5,544.1 1013.5,550.4 1016.0,550.4 1016.0,558.5 1018.5,558.5 1018.5,546.2 1021.0,546.2 1021.0,550.4 1023.5,550.4 1023.5,555.8 1026.0,555.8 1026.0,557.1 1028.5,557.1 1028.5,556.3 1031.0,556.3 1031.0,555.2 1033.5,555.2 1033.5,560.0 1036.0,560.0 1036.0,542.3 1038.5,542.3 1038.5,542.3 1041.0,542.3 1041.0,545.3 1043.5,545.3 1043.5,555.5 1046.0,555.5 1046.0,555.5 1048.5,555.5 1048.5,547.2 1051.0,547.2 1051.0,547.2 1053.5,547.2 1053.5,552.9 1056.0,552.9 1056.0,547.5 1058.5,547.5 1058.5,546.8 1061.0,546.8 1061.0,546.8 1063.5,546.8 1063.5,545.7 1066.0,545.7 1066.0,544.4 1068.5,544.4 1068.5,551.9 1071.0,551.9 1071.0,543.1 1073.5,543.1 1073.5,543.1 1076.0,543.1 1076.0,546.2 1078.5,546.2 1078.5,545.6 1081.0,545.6 1081.0,546.0 1083.5,546.0 1083.5,541.9 1086.0,541.9 1086.0,547.7 1088.5,547.7 1088.5,532.6 1091.0,532.6 1091.0,542.5 1093.5,542.5 1093.5,544.4 1096.0,544.4 1096.0,539.8 1098.5,539.8 1098.5,543.3 1101.0,543.3 1101.0,541.0 1103.5,541.0 1103.5,548.3 1106.0,548.3 1106.0,542.2 1108.5,542.2 1108.5,542.2 1111.0,542.2 1111.0,530.4 1113.5,530.4 1113.5,521.3 1116.0,521.3 1116.0,531.8 1118.5,531.8 1118.5,536.2 1121.0,536.2 1121.0,539.9 1123.5,539.9 1123.5,534.2 1126.0,534.2 1126.0,530.5 1128.5,530.5 1128.5,535.9 1131.0,535.9 1131.0,543.6 1133.5,543.6 1133.5,523.3 1136.0,523.3 1136.0,523.3 1138.5,523.3 1138.5,532.4 1141.0,532.4 1141.0,530.3 1143.5,530.3 1143.5,512.6 1146.0,512.6 1146.0,512.6 1148.5,512.6 1148.5,517.4 1151.0,517.4 1151.0,517.4 1153.5,517.4 1153.5,524.8 1156.0,524.8 1156.0,524.8 1158.5,524.8 1158.5,513.9 1161.0,513.9 1161.0,513.9 1163.5,513.9 1163.5,520.5 1166.0,520.5 1166.0,521.2 1168.5,521.2 1168.5,522.6 1171.0,522.6 1171.0,516.4 1173.5,516.4 1173.5,531.2 1176.0,531.2 1176.0,512.7 1178.5,512.7 1178.5,520.9 1181.0,520.9 1181.0,532.5 1183.5,532.5 1183.5,535.8 1186.0,535.8 1186.0,533.3 1188.5,533.3 1188.5,528.6 1191.0,528.6 1191.0,531.3 1193.5,531.3 1193.5,526.8 1196.0,526.8 1196.0,530.8 1198.5,530.8 1198.5,540.6 1201.0,540.6 1201.0,541.9 1203.5,541.9 1203.5,536.3 1206.0,536.3 1206.0,533.1 1208.5,533.1 1208.5,536.9 1211.0,536.9 1211.0,538.1 1213.5,538.1 1213.5,542.9 1216.0,542.9 1216.0,545.8 1218.5,545.8 1218.5,538.5 1221.0,538.5 1221.0,538.5 1223.5,538.5 1223.5,539.2 1226.0,539.2 1226.0,534.8 1228.5,534.8 1228.5,541.6 1231.0,541.6 1231.0,546.3 1233.5,546.3 1233.5,538.5 1236.0,538.5 1236.0,539.0 1238.5,539.0 1238.5,535.6 1241.0,535.6 1241.0,535.6 1243.5,535.6 1243.5,534.6 1246.0,534.6 1246.0,534.2 1248.5,534.2 1248.5,541.8 1251.0,541.8 1251.0,540.5 1253.5,540.5 1253.5,530.5 1256.0,530.5 1256.0,541.5 1258.5,541.5 1258.5,541.7 1261.0,541.7 1261.0,538.2 1263.5,538.2 1263.5,538.2 1266.0,538.2 1266.0,530.9 1268.5,530.9 1268.5,543.7 1271.0,543.7 1271.0,538.1 1273.5,538.1 1273.5,540.5 1276.0,540.5 1276.0,540.5 1278.5,540.5 1278.5,531.7 1281.0,531.7 1281.0,533.8 1283.5,533.8 1283.5,529.6 1286.0,529.6 1286.0,542.1 1288.5,542.1 1288.5,544.4 1291.0,544.4 1291.0,542.3 1293.5,542.3 1293.5,525.1 1296.0,525.1 1296.0,540.8 1298.5,540.8 1298.5,542.2 1301.0,542.2 1301.0,545.9 1303.5,545.9 1303.5,545.7 1306.0,545.7 1306.0,542.8 1308.5,542.8 1308.5,545.7 1311.0,545.7 1311.0,536.6 1313.5,536.6 1313.5,537.8 1316.0,537.8 1316.0,538.7 1318.5,538.7 1318.5,541.3 1321.0,541.3 1321.0,539.6 1323.5,539.6 1323.5,535.7 1326.0,535.7 1326.0,530.0 1328.5,530.0 1328.5,547.4 1331.0,547.4 1331.0,549.5 1333.5,549.5 1333.5,543.7 1335.5,543.7 1335.5,573.6 1333.5,573.6 1333.5,567.6 1331.0,567.6 1331.0,581.0 1328.5,581.0 1328.5,568.3 1326.0,568.3 1326.0,561.7 1323.5,561.7 1323.5,565.8 1321.0,565.8 1321.0,571.8 1318.5,571.8 1318.5,571.8 1316.0,571.8 1316.0,572.7 1313.5,572.7 1313.5,569.6 1311.0,569.6 1311.0,562.6 1308.5,562.6 1308.5,572.2 1306.0,572.2 1306.0,572.2 1303.5,572.2 1303.5,566.0 1301.0,566.0 1301.0,565.1 1298.5,565.1 1298.5,560.9 1296.0,560.9 1296.0,565.7 1293.5,565.7 1293.5,567.1 1291.0,567.1 1291.0,561.3 1288.5,561.3 1288.5,564.2 1286.0,564.2 1286.0,558.8 1283.5,558.8 1283.5,556.4 1281.0,556.4 1281.0,558.7 1278.5,558.7 1278.5,561.9 1276.0,561.9 1276.0,568.0 1273.5,568.0 1273.5,568.0 1271.0,568.0 1271.0,565.4 1268.5,565.4 1268.5,559.0 1266.0,559.0 1266.0,560.4 1263.5,560.4 1263.5,564.7 1261.0,564.7 1261.0,564.7 1258.5,564.7 1258.5,560.7 1256.0,560.7 1256.0,553.6 1253.5,553.6 1253.5,561.1 1251.0,561.1 1251.0,564.0 1248.5,564.0 1248.5,563.8 1246.0,563.8 1246.0,565.6 1243.5,565.6 1243.5,565.4 1241.0,565.4 1241.0,564.2 1238.5,564.2 1238.5,565.9 1236.0,565.9 1236.0,557.7 1233.5,557.7 1233.5,562.8 1231.0,562.8 1231.0,566.7 1228.5,566.7 1228.5,563.1 1226.0,563.1 1226.0,563.1 1223.5,563.1 1223.5,560.7 1221.0,560.7 1221.0,569.6 1218.5,569.6 1218.5,557.1 1216.0,557.1 1216.0,559.9 1213.5,559.9 1213.5,557.3 1211.0,557.3 1211.0,568.3 1208.5,568.3 1208.5,562.7 1206.0,562.7 1206.0,555.3 1203.5,555.3 1203.5,565.0 1201.0,565.0 1201.0,558.4 1198.5,558.4 1198.5,563.2 1196.0,563.2 1196.0,567.2 1193.5,567.2 1193.5,557.9 1191.0,557.9 1191.0,546.3 1188.5,546.3 1188.5,555.0 1186.0,555.0 1186.0,555.4 1183.5,555.4 1183.5,555.4 1181.0,555.4 1181.0,548.4 1178.5,548.4 1178.5,549.8 1176.0,549.8 1176.0,558.9 1173.5,558.9 1173.5,541.8 1171.0,541.8 1171.0,541.8 1168.5,541.8 1168.5,543.1 1166.0,543.1 1166.0,553.4 1163.5,553.4 1163.5,546.2 1161.0,546.2 1161.0,552.0 1158.5,552.0 1158.5,547.8 1156.0,547.8 1156.0,548.9 1153.5,548.9 1153.5,549.2 1151.0,549.2 1151.0,553.8 1148.5,553.8 1148.5,550.1 1146.0,550.1 1146.0,559.6 1143.5,559.6 1143.5,555.5 1141.0,555.5 1141.0,555.8 1138.5,555.8 1138.5,554.8 1136.0,554.8 1136.0,552.9 1133.5,552.9 1133.5,554.8 1131.0,554.8 1131.0,556.4 1128.5,556.4 1128.5,562.0 1126.0,562.0 1126.0,561.1 1123.5,561.1 1123.5,563.5 1121.0,563.5 1121.0,560.8 1118.5,560.8 1118.5,562.0 1116.0,562.0 1116.0,559.0 1113.5,559.0 1113.5,560.6 1111.0,560.6 1111.0,555.4 1108.5,555.4 1108.5,564.1 1106.0,564.1 1106.0,567.8 1103.5,567.8 1103.5,563.3 1101.0,563.3 1101.0,565.4 1098.5,565.4 1098.5,564.2 1096.0,564.2 1096.0,564.2 1093.5,564.2 1093.5,566.1 1091.0,566.1 1091.0,561.0 1088.5,561.0 1088.5,565.3 1086.0,565.3 1086.0,567.0 1083.5,567.0 1083.5,567.0 1081.0,567.0 1081.0,571.2 1078.5,571.2 1078.5,566.2 1076.0,566.2 1076.0,566.2 1073.5,566.2 1073.5,571.0 1071.0,571.0 1071.0,572.4 1068.5,572.4 1068.5,559.1 1066.0,559.1 1066.0,569.2 1063.5,569.2 1063.5,565.9 1061.0,565.9 1061.0,573.1 1058.5,573.1 1058.5,576.9 1056.0,576.9 1056.0,562.3 1053.5,562.3 1053.5,566.4 1051.0,566.4 1051.0,568.9 1048.5,568.9 1048.5,573.3 1046.0,573.3 1046.0,576.2 1043.5,576.2 1043.5,575.1 1041.0,575.1 1041.0,574.0 1038.5,574.0 1038.5,576.3 1036.0,576.3 1036.0,578.2 1033.5,578.2 1033.5,568.5 1031.0,568.5 1031.0,569.8 1028.5,569.8 1028.5,572.6 1026.0,572.6 1026.0,576.3 1023.5,576.3 1023.5,576.3 1021.0,576.3 1021.0,585.1 1018.5,585.1 1018.5,585.1 1016.0,585.1 1016.0,577.6 1013.5,577.6 1013.5,572.2 1011.0,572.2 1011.0,574.7 1008.5,574.7 1008.5,578.3 1006.0,578.3 1006.0,576.8 1003.5,576.8 1003.5,572.7 1001.0,572.7 1001.0,573.5 998.5,573.5 998.5,581.1 996.0,581.1 996.0,581.1 993.5,581.1 993.5,568.8 991.0,568.8 991.0,580.3 988.5,580.3 988.5,575.0 986.0,575.0 986.0,573.3 983.5,573.3 983.5,567.2 981.0,567.2 981.0,568.2 978.5,568.2 978.5,571.1 976.0,571.1 976.0,579.2 973.5,579.2 973.5,580.1 971.0,580.1 971.0,583.9 968.5,583.9 968.5,573.5 966.0,573.5 966.0,576.7 963.5,576.7 963.5,576.7 961.0,576.7 961.0,579.3 958.5,579.3 958.5,572.2 956.0,572.2 956.0,566.3 953.5,566.3 953.5,569.1 951.0,569.1 951.0,571.0 948.5,571.0 948.5,566.9 946.0,566.9 946.0,577.3 943.5,577.3 943.5,567.2 941.0,567.2 941.0,573.1 938.5,573.1 938.5,573.3 936.0,573.3 936.0,573.3 933.5,573.3 933.5,585.3 931.0,585.3 931.0,576.0 928.5,576.0 928.5,575.7 926.0,575.7 926.0,567.9 923.5,567.9 923.5,566.3 921.0,566.3 921.0,573.7 918.5,573.7 918.5,568.1 916.0,568.1 916.0,570.4 913.5,570.4 913.5,575.5 911.0,575.5 911.0,575.5 908.5,575.5 908.5,575.5 906.0,575.5 906.0,575.5 903.5,575.5 903.5,582.5 901.0,582.5 901.0,563.0 898.5,563.0 898.5,569.2 896.0,569.2 896.0,568.0 893.5,568.0 893.5,568.3 891.0,568.3 891.0,570.5 888.5,570.5 888.5,561.1 886.0,561.1 886.0,570.3 883.5,570.3 883.5,572.3 881.0,572.3 881.0,572.3 878.5,572.3 878.5,562.3 876.0,562.3 876.0,572.2 873.5,572.2 873.5,572.2 871.0,572.2 871.0,556.9 868.5,556.9 868.5,572.6 866.0,572.6 866.0,565.0 863.5,565.0 863.5,569.9 861.0,569.9 861.0,562.4 858.5,562.4 858.5,559.4 856.0,559.4 856.0,560.2 853.5,560.2 853.5,565.8 851.0,565.8 851.0,575.8 848.5,575.8 848.5,571.4 846.0,571.4 846.0,571.4 843.5,571.4 843.5,565.3 841.0,565.3 841.0,558.5 838.5,558.5 838.5,558.3 836.0,558.3 836.0,565.3 833.5,565.3 833.5,575.2 831.0,575.2 831.0,570.9 828.5,570.9 828.5,562.6 826.0,562.6 826.0,567.2 823.5,567.2 823.5,557.9 821.0,557.9 821.0,551.0 818.5,551.0 818.5,566.8 816.0,566.8 816.0,560.9 813.5,560.9 813.5,560.9 811.0,560.9 811.0,562.6 808.5,562.6 808.5,560.2 806.0,560.2 806.0,554.2 803.5,554.2 803.5,569.0 801.0,569.0 801.0,561.3 798.5,561.3 798.5,552.8 796.0,552.8 796.0,556.1 793.5,556.1 793.5,562.9 791.0,562.9 791.0,557.2 788.5,557.2 788.5,559.2 786.0,559.2 786.0,546.4 783.5,546.4 783.5,553.2 781.0,553.2 781.0,557.7 778.5,557.7 778.5,565.8 776.0,565.8 776.0,553.5 773.5,553.5 773.5,551.6 771.0,551.6 771.0,560.2 768.5,560.2 768.5,551.2 766.0,551.2 766.0,559.1 763.5,559.1 763.5,540.9 761.0,540.9 761.0,538.5 758.5,538.5 758.5,542.8 756.0,542.8 756.0,559.2 753.5,559.2 753.5,544.2 751.0,544.2 751.0,538.9 748.5,538.9 748.5,543.1 746.0,543.1 746.0,531.6 743.5,531.6 743.5,556.8 741.0,556.8 741.0,542.1 738.5,542.1 738.5,540.8 736.0,540.8 736.0,539.6 733.5,539.6 733.5,543.0 731.0,543.0 731.0,543.0 728.5,543.0 728.5,528.5 726.0,528.5 726.0,542.7 723.5,542.7 723.5,536.3 721.0,536.3 721.0,547.2 718.5,547.2 718.5,555.7 716.0,555.7 716.0,530.2 713.5,530.2 713.5,539.7 711.0,539.7 711.0,532.7 708.5,532.7 708.5,537.9 706.0,537.9 706.0,543.1 703.5,543.1 703.5,534.9 701.0,534.9 701.0,538.0 698.5,538.0 698.5,550.2 696.0,550.2 696.0,542.8 693.5,542.8 693.5,537.8 691.0,537.8 691.0,534.7 688.5,534.7 688.5,535.4 686.0,535.4 686.0,545.5 683.5,545.5 683.5,536.5 681.0,536.5 681.0,541.3 678.5,541.3 678.5,561.6 676.0,561.6 676.0,555.9 673.5,555.9 673.5,548.0 671.0,548.0 671.0,542.0 668.5,542.0 668.5,541.5 666.0,541.5 666.0,540.5 663.5,540.5 663.5,552.5 661.0,552.5 661.0,534.6 658.5,534.6 658.5,551.3 656.0,551.3 656.0,542.9 653.5,542.9 653.5,533.2 651.0,533.2 651.0,539.2 648.5,539.2 648.5,533.1 646.0,533.1 646.0,533.3 643.5,533.3 643.5,520.2 641.0,520.2 641.0,533.2 638.5,533.2 638.5,523.1 636.0,523.1 636.0,523.5 633.5,523.5 633.5,516.5 631.0,516.5 631.0,517.2 628.5,517.2 628.5,503.0 626.0,503.0 626.0,511.5 623.5,511.5 623.5,518.6 621.0,518.6 621.0,496.6 618.5,496.6 618.5,484.5 616.0,484.5 616.0,499.7 613.5,499.7 613.5,485.3 611.0,485.3 611.0,467.8 608.5,467.8 608.5,488.3 606.0,488.3 606.0,488.3 603.5,488.3 603.5,499.1 601.0,499.1 601.0,485.8 598.5,485.8 598.5,496.5 596.0,496.5 596.0,485.6 593.5,485.6 593.5,492.0 591.0,492.0 591.0,518.7 588.5,518.7 588.5,518.7 586.0,518.7 586.0,532.9 583.5,532.9 583.5,543.2 581.0,543.2 581.0,536.2 578.5,536.2 578.5,544.5 576.0,544.5 576.0,532.3 573.5,532.3 573.5,550.1 571.0,550.1 571.0,548.2 568.5,548.2 568.5,539.2 566.0,539.2 566.0,549.2 563.5,549.2 563.5,545.0 561.0,545.0 561.0,548.5 558.5,548.5 558.5,550.2 556.0,550.2 556.0,560.8 553.5,560.8 553.5,560.8 551.0,560.8 551.0,555.5 548.5,555.5 548.5,547.7 546.0,547.7 546.0,557.4 543.5,557.4 543.5,557.4 541.0,557.4 541.0,554.9 538.5,554.9 538.5,550.4 536.0,550.4 536.0,557.2 533.5,557.2 533.5,547.9 531.0,547.9 531.0,546.5 528.5,546.5 528.5,547.7 526.0,547.7 526.0,541.4 523.5,541.4 523.5,558.9 521.0,558.9 521.0,558.9 518.5,558.9 518.5,564.9 516.0,564.9 516.0,564.9 513.5,564.9 513.5,547.8 511.0,547.8 511.0,557.5 508.5,557.5 508.5,549.0 506.0,549.0 506.0,549.8 503.5,549.8 503.5,561.8 501.0,561.8 501.0,562.0 498.5,562.0 498.5,562.0 496.0,562.0 496.0,545.8 493.5,545.8 493.5,547.4 491.0,547.4 491.0,556.9 488.5,556.9 488.5,546.6 486.0,546.6 486.0,547.1 483.5,547.1 483.5,545.1 481.0,545.1 481.0,537.8 478.5,537.8 478.5,554.1 476.0,554.1 476.0,547.0 473.5,547.0 473.5,542.3 471.0,542.3 471.0,552.2 468.5,552.2 468.5,544.4 466.0,544.4 466.0,553.7 463.5,553.7 463.5,554.5 461.0,554.5 461.0,549.3 458.5,549.3 458.5,544.9 456.0,544.9 456.0,544.1 453.5,544.1 453.5,545.5 451.0,545.5 451.0,568.8 448.5,568.8 448.5,545.3 446.0,545.3 446.0,540.2 443.5,540.2 443.5,541.7 441.0,541.7 441.0,532.6 438.5,532.6 438.5,540.5 436.0,540.5 436.0,537.0 433.5,537.0 433.5,532.2 431.0,532.2 431.0,528.2 428.5,528.2 428.5,543.3 426.0,543.3 426.0,537.2 423.5,537.2 423.5,542.2 421.0,542.2 421.0,539.3 418.5,539.3 418.5,537.1 416.0,537.1 416.0,518.3 413.5,518.3 413.5,529.2 411.0,529.2 411.0,536.9 408.5,536.9 408.5,518.6 406.0,518.6 406.0,528.9 403.5,528.9 403.5,527.4 401.0,527.4 401.0,524.3 398.5,524.3 398.5,518.5 396.0,518.5 396.0,524.9 393.5,524.9 393.5,528.3 391.0,528.3 391.0,518.5 388.5,518.5 388.5,529.0 386.0,529.0 386.0,506.2 383.5,506.2 383.5,494.2 381.0,494.2 381.0,511.3 378.5,511.3 378.5,514.2 376.0,514.2 376.0,514.1 373.5,514.1 373.5,502.7 371.0,502.7 371.0,507.6 368.5,507.6 368.5,507.6 366.0,507.6 366.0,489.9 363.5,489.9 363.5,482.9 361.0,482.9 361.0,479.2 358.5,479.2 358.5,469.7 356.0,469.7 356.0,479.0 353.5,479.0 353.5,492.5 351.0,492.5 351.0,472.0 348.5,472.0 348.5,456.6 346.0,456.6 346.0,476.3 343.5,476.3 343.5,470.6 341.0,470.6 341.0,460.1 338.5,460.1 338.5,441.3 336.0,441.3 336.0,455.6 333.5,455.6 333.5,455.6 331.0,455.6 331.0,471.3 328.5,471.3 328.5,470.2 326.0,470.2 326.0,459.0 323.5,459.0 323.5,464.4 321.0,464.4 321.0,463.7 318.5,463.7 318.5,462.8 316.0,462.8 316.0,475.5 313.5,475.5 313.5,455.8 311.0,455.8 311.0,483.3 308.5,483.3 308.5,462.2 306.0,462.2 306.0,474.2 303.5,474.2 303.5,465.7 301.0,465.7 301.0,482.7 298.5,482.7 298.5,466.1 296.0,466.1 296.0,468.7 293.5,468.7 293.5,489.0 291.0,489.0 291.0,458.1 288.5,458.1 288.5,454.6 286.0,454.6 286.0,472.4 283.5,472.4 283.5,475.6 281.0,475.6 281.0,460.3 278.5,460.3 278.5,479.7 276.0,479.7 276.0,467.4 273.5,467.4 273.5,472.9 271.0,472.9 271.0,472.9 268.5,472.9 268.5,460.9 266.0,460.9 266.0,461.1 263.5,461.1 263.5,462.6 261.0,462.6 261.0,474.6 258.5,474.6 258.5,453.5 256.0,453.5 256.0,451.4 253.5,451.4 253.5,456.1 251.0,456.1 251.0,460.3 248.5,460.3 248.5,454.8 246.0,454.8 246.0,467.1 243.5,467.1 243.5,450.2 241.0,450.2 241.0,441.5 238.5,441.5 238.5,441.5 236.0,441.5 236.0,434.1 233.5,434.1 233.5,447.9 231.0,447.9 231.0,436.6 228.5,436.6 228.5,436.6 226.0,436.6 226.0,434.8 223.5,434.8 223.5,408.3 221.0,408.3 221.0,431.3 218.5,431.3 218.5,429.0 216.0,429.0 216.0,432.4 213.5,432.4 213.5,416.1 211.0,416.1 211.0,404.6 208.5,404.6 208.5,410.7 206.0,410.7 206.0,450.4 203.5,450.4 203.5,408.3 201.0,408.3 201.0,400.8 198.5,400.8 198.5,399.6 196.0,399.6 196.0,396.0 193.5,396.0 193.5,417.5 191.0,417.5 191.0,395.0 188.5,395.0 188.5,387.1 186.0,387.1 186.0,386.0 183.5,386.0 183.5,387.8 181.0,387.8 181.0,377.3 178.5,377.3 178.5,402.6 176.0,402.6 176.0,402.4 173.5,402.4 173.5,381.5 171.0,381.5 171.0,380.8 168.5,380.8 168.5,408.9 166.0,408.9 166.0,374.3 163.5,374.3 163.5,346.2 161.0,346.2 161.0,378.3 158.5,378.3 158.5,351.5 156.0,351.5 156.0,363.6 153.5,363.6 153.5,343.7 151.0,343.7 151.0,352.1 148.5,352.1 148.5,322.2 146.0,322.2 146.0,326.5 143.5,326.5 143.5,366.3 141.0,366.3 141.0,340.9 138.5,340.9 138.5,334.7 136.0,334.7 136.0,334.7 133.5,334.7 133.5,306.3 131.0,306.3 131.0,302.4 128.5,302.4 128.5,293.6 126.0,293.6 126.0,287.5 123.5,287.5 123.5,280.0 121.0,280.0 121.0,283.9 118.5,283.9 118.5,257.0 116.0,257.0 116.0,265.6 113.5,265.6 113.5,263.1 111.0,263.1 111.0,251.0 108.5,251.0 108.5,232.2 106.0,232.2 106.0,273.7 103.5,273.7 103.5,272.8 101.0,272.8 101.0,244.2 98.5,244.2 98.5,216.0 96.0,216.0 96.0,203.5 93.5,203.5 93.5,196.9 91.0,196.9" fill="#0000ff"/>
<line x1="329" y1="163.2" x2="329" y2="1485.1" stroke="#000" stroke-width="4" stroke-dasharray="11.70 12.20" stroke-dashoffset="0" stroke-linecap="round"/>
<line x1="603.6" y1="156.6" x2="603.6" y2="1467.8" stroke="#00009c" stroke-width="5" stroke-dasharray="15.50 17.70" stroke-dashoffset="0" stroke-linecap="round"/>
<line x1="727" y1="266.5" x2="727" y2="1496.1" stroke="#000" stroke-width="4" stroke-dasharray="11.70 12.20" stroke-dashoffset="0" stroke-linecap="round"/>
<line x1="772" y1="269.7" x2="772" y2="1496.1" stroke="#000" stroke-width="4" stroke-dasharray="11.70 12.20" stroke-dashoffset="0" stroke-linecap="round"/>
<line x1="797.1" y1="269.7" x2="797.1" y2="1496.1" stroke="#000" stroke-width="4" stroke-dasharray="11.70 12.20" stroke-dashoffset="0" stroke-linecap="round"/>
<line x1="1152" y1="266.6" x2="1152" y2="1496.1" stroke="#000" stroke-width="4" stroke-dasharray="11.70 12.20" stroke-dashoffset="0" stroke-linecap="round"/>
<line x1="900.1" y1="250.5" x2="764.9" y2="322.8" stroke="#000" stroke-width="2.8"/><polygon points="740.2,336.0 761.6,316.6 768.2,329.0" fill="#000"/>
<line x1="906.7" y1="264.6" x2="775.2" y2="378.6" stroke="#000" stroke-width="2.8"/><polygon points="754.0,396.9 770.6,373.3 779.7,383.9" fill="#000"/>
<line x1="923" y1="272.9" x2="818.8" y2="414.5" stroke="#000" stroke-width="2.8"/><polygon points="802.2,437.1 813.2,410.4 824.4,418.7" fill="#000"/>
<text class="" transform="translate(92.0,1543.8) scale(1.19,1)" font-size="37.3" letter-spacing="0.5" text-anchor="middle">10</text>
<text class="" transform="translate(247.29999999999998,1543.8) scale(1.19,1)" font-size="37.3" letter-spacing="0.5" text-anchor="middle">20</text>
<text class="" transform="translate(402.59999999999997,1543.8) scale(1.19,1)" font-size="37.3" letter-spacing="0.5" text-anchor="middle">30</text>
<text class="" transform="translate(557.9,1543.8) scale(1.19,1)" font-size="37.3" letter-spacing="0.5" text-anchor="middle">40</text>
<text class="" transform="translate(713.1999999999999,1543.8) scale(1.19,1)" font-size="37.3" letter-spacing="0.5" text-anchor="middle">50</text>
<text class="" transform="translate(868.5,1543.8) scale(1.19,1)" font-size="37.3" letter-spacing="0.5" text-anchor="middle">60</text>
<text class="" transform="translate(1023.8,1543.8) scale(1.19,1)" font-size="37.3" letter-spacing="0.5" text-anchor="middle">70</text>
<text class="" transform="translate(1179.1,1543.8) scale(1.19,1)" font-size="37.3" letter-spacing="0.5" text-anchor="middle">80</text>
<text class="" transform="translate(1334.3999999999999,1543.8) scale(1.19,1)" font-size="37.3" letter-spacing="0.5" text-anchor="middle">90</text>
<text class="b" transform="translate(810,124.3) scale(1.157,1)" font-size="48.4" letter-spacing="-1.75" text-anchor="start">N-NCG-3 B</text>
<text class="b" transform="translate(838.7,641.2) scale(1.15,1)" font-size="48.7" letter-spacing="-1.75" text-anchor="start">N-NCG-3</text>
<text class="b" transform="translate(838.7,1116.2) scale(1.157,1)" font-size="48.4" letter-spacing="-1.75" text-anchor="start">N-NCG-1</text>
<text class="" transform="translate(911,262.5) scale(1.13,1)" font-size="49" letter-spacing="0" text-anchor="start">Si</text>
<text class="b" transform="translate(636,1615) scale(1.1,1)" font-size="54" letter-spacing="0" text-anchor="start">2θ</text>
<text class="ser" transform="translate(714.6,1613) scale(1.1,1)" font-size="48.5">(<tspan x="29" y="6.5" font-size="63.5" text-anchor="middle">°</tspan><tspan x="39.27" y="0">)</tspan></text>
<text class="b" transform="translate(52,910.8) rotate(-90) scale(1,0.905)" font-size="53" letter-spacing="-2.65">Intensity (a.u.)</text>
<text class="" transform="translate(410.4,883.3) rotate(-90) scale(1,0.908)" font-size="53.4" letter-spacing="-3.05">Graphite (002)</text>
<text class="" transform="translate(558.2,917.2) rotate(-90) scale(1,0.908)" font-size="53.4" letter-spacing="-3.05">Graphite (100)</text>
<text class="" transform="translate(1119.5,954) rotate(-90) scale(1,0.908)" font-size="53.4" letter-spacing="-3.05">Graphite (112)</text>
</svg></body></html>
